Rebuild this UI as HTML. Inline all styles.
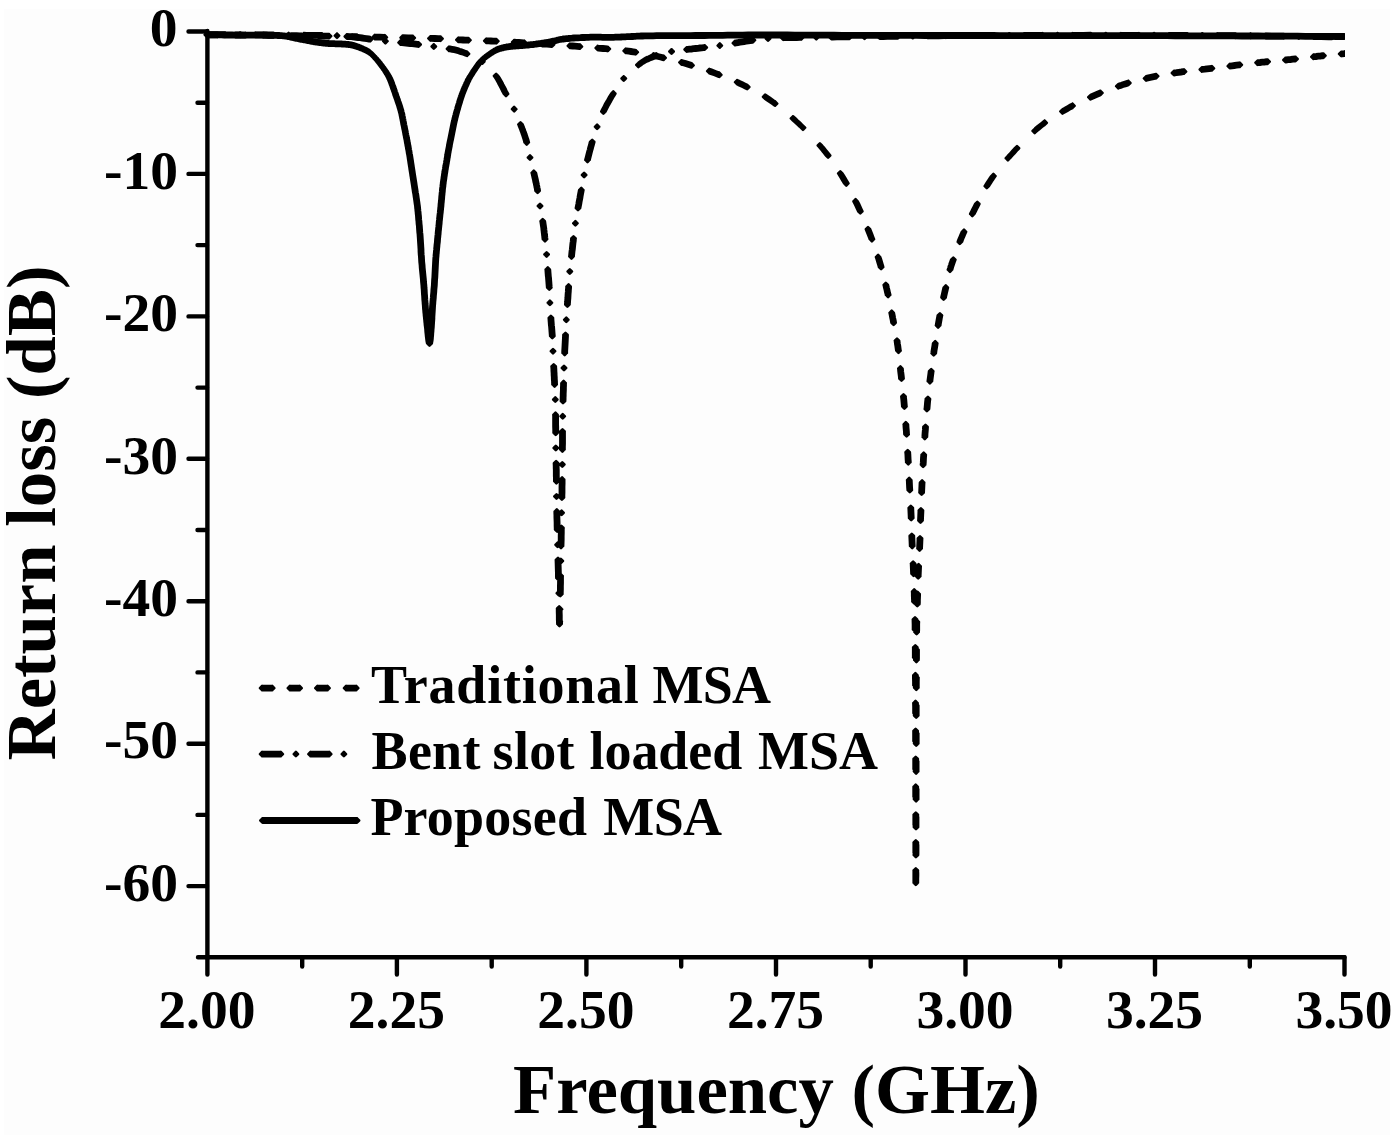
<!DOCTYPE html>
<html><head><meta charset="utf-8"><style>
html,body{margin:0;padding:0;background:#fff;width:1400px;height:1139px;overflow:hidden}
svg{display:block}
text{font-family:"Liberation Serif",serif;font-weight:bold;fill:#000}
</style></head><body>
<svg width="1400" height="1139" viewBox="0 0 1400 1139">
<rect width="1400" height="1139" fill="#fff"/>
<rect x="4" y="9" width="1386" height="1126" fill="#fdfdfd"/>
<g id="axes" stroke="#000" stroke-width="4.4" stroke-linecap="round" fill="none">
<path d="M207.4 31V958M198 957.2H1344.5"/>
<path d="M188.5 31.5H207M188.5 173.9H207M188.5 316.4H207M188.5 458.8H207M188.5 601.2H207M188.5 743.7H207M188.5 886.1H207"/>
<path d="M197.5 102.7H207M197.5 245.1H207M197.5 387.6H207M197.5 530.0H207M197.5 672.4H207M197.5 814.9H207"/>
<path d="M207.4 957.2V974.6M396.9 957.2V974.6M586.4 957.2V974.6M776.0 957.2V974.6M965.5 957.2V974.6M1155.0 957.2V974.6M1344.5 957.2V974.6"/>
<path d="M302.2 957.2V966.5M491.7 957.2V966.5M681.2 957.2V966.5M870.7 957.2V966.5M1060.2 957.2V966.5M1249.8 957.2V966.5"/>
</g>
<g font-size="55.5" text-anchor="end">
<text x="177.5" y="46">0</text>
<text x="177.9" y="189">-10</text>
<text x="177.9" y="331.3">-20</text>
<text x="177.9" y="473.6">-30</text>
<text x="177.9" y="615.9">-40</text>
<text x="177.9" y="758.2">-50</text>
<text x="177.9" y="900.5">-60</text>
</g>
<g font-size="55.5" text-anchor="middle">
<text x="206.9" y="1028.3">2.00</text>
<text x="396.4" y="1028.3">2.25</text>
<text x="585.9" y="1028.3">2.50</text>
<text x="775.5" y="1028.3">2.75</text>
<text x="965.0" y="1028.3">3.00</text>
<text x="1154.5" y="1028.3">3.25</text>
<text x="1344.0" y="1028.3">3.50</text>
</g>
<text x="776.5" y="1113" font-size="70.7" text-anchor="middle">Frequency (GHz)</text>
<text transform="translate(55,513) rotate(-90)" font-size="70.7" text-anchor="middle">Return loss (dB)</text>
<g font-size="54" lengthAdjust="spacing">
<text x="371.1" y="703" textLength="267.6" lengthAdjust="spacing">Traditional</text>
<text x="652.5" y="703" textLength="118.6" lengthAdjust="spacing">MSA</text>
<text x="371.6" y="769" textLength="108.8" lengthAdjust="spacing">Bent</text>
<text x="492.6" y="769" textLength="82.0" lengthAdjust="spacing">slot</text>
<text x="589.6" y="769" textLength="152.6" lengthAdjust="spacing">loaded</text>
<text x="757.9" y="769" textLength="120.2" lengthAdjust="spacing">MSA</text>
<text x="370.4" y="835" textLength="216.6" lengthAdjust="spacing">Proposed</text>
<text x="603.3" y="835" textLength="118.8" lengthAdjust="spacing">MSA</text>
</g>
<g id="curves" fill="#000" stroke="#000" stroke-width="2.6" stroke-linejoin="round">
<clipPath id="cp"><rect x="150" y="0" width="1195" height="960"/></clipPath>
<g clip-path="url(#cp)">
<path d="M207 32.7 209.8 32.7 212.6 32.8 215.4 32.8 218.3 32.8 221.2 32.8 224 32.9 226.8 32.9 229.6 32.9 232.3 32.9 235 33 237.5 33 240 33 242.4 33 244.7 33 247 33 249.2 33 251.3 33 253.4 33 255.5 33 257.5 33 259.4 33 261.3 33.1 263.2 33.1 265 33.1 266.8 33.1 268.5 33.2 270.2 33.2 271.8 33.2 273.4 33.2 274.9 33.3 276.4 33.3 277.8 33.4 279.2 33.4 280.5 33.5 281.8 33.6 283 33.7 284.2 33.8 285.2 34 286.2 34.1 287.2 34.3 288 34.5 288.9 34.6 289.7 34.8 290.5 35 291.4 35.2 292.2 35.4 293.1 35.6 294 35.8 295 36 295.9 36.2 296.9 36.4 297.9 36.6 298.8 36.8 299.8 37 300.8 37.2 301.8 37.3 302.8 37.5 303.8 37.7 304.7 37.9 305.7 38.1 306.7 38.3 307.6 38.5 308.5 38.6 309.5 38.8 310.4 39 311.4 39.2 312.3 39.3 313.2 39.5 314.2 39.7 315.1 39.8 316 40 317 40.1 318 40.2 318.9 40.4 319.9 40.5 320.9 40.6 321.8 40.7 322.8 40.9 323.8 41 324.7 41.1 325.7 41.2 326.7 41.2 327.6 41.3 328.6 41.4 329.6 41.5 330.5 41.5 331.5 41.6 332.5 41.6 333.4 41.6 334.4 41.6 335.4 41.7 336.3 41.7 337.3 41.7 338.2 41.7 339.1 41.8 340 41.8 340.9 41.8 341.8 41.9 342.7 42 343.6 42 344.4 42.1 345.3 42.1 346.1 42.2 347 42.3 347.8 42.3 348.5 42.4 349.3 42.5 350 42.6 350.7 42.7 351.3 42.8 351.9 42.9 352.5 43.1 353 43.2 353.5 43.3 354 43.5 354.5 43.6 355 43.8 355.5 44 356.1 44.1 356.6 44.3 357.2 44.5 357.7 44.7 358.2 44.9 358.8 45.1 359.4 45.3 359.9 45.5 360.5 45.7 361 45.9 361.6 46.2 362.1 46.4 362.7 46.6 363.2 46.9 363.8 47.2 364.3 47.4 364.9 47.7 365.4 47.9 366 48.2 366.5 48.5 367.1 48.7 367.6 49 368.2 49.4 368.7 49.7 369.3 50.1 369.8 50.5 370.3 50.9 370.9 51.4 371.5 51.9 372 52.4 372.6 53 372.6 57.2 372 56.6 371.5 56.1 370.9 55.6 370.3 55.1 369.8 54.7 369.3 54.3 368.7 53.9 368.2 53.6 367.6 53.2 367.1 52.9 366.5 52.7 366 52.4 365.4 52.1 364.9 51.9 364.3 51.6 363.8 51.4 363.2 51.1 362.7 50.8 362.1 50.6 361.6 50.4 361 50.1 360.5 49.9 359.9 49.7 359.4 49.5 358.8 49.3 358.2 49.1 357.7 48.9 357.2 48.7 356.6 48.5 356.1 48.3 355.5 48.2 355 48 354.5 47.8 354 47.7 353.5 47.5 353 47.4 352.5 47.3 351.9 47.1 351.3 47 350.7 46.9 350 46.8 349.3 46.7 348.5 46.6 347.8 46.5 347 46.5 346.1 46.4 345.3 46.3 344.4 46.3 343.6 46.2 342.7 46.2 341.8 46.1 340.9 46 340 46 339.1 46 338.2 45.9 337.3 45.9 336.3 45.9 335.4 45.9 334.4 45.8 333.4 45.8 332.5 45.8 331.5 45.8 330.5 45.7 329.6 45.7 328.6 45.6 327.6 45.5 326.7 45.4 325.7 45.4 324.7 45.3 323.8 45.2 322.8 45.1 321.8 44.9 320.9 44.8 319.9 44.7 318.9 44.6 318 44.4 317 44.3 316 44.2 315.1 44 314.2 43.9 313.2 43.7 312.3 43.5 311.4 43.4 310.4 43.2 309.5 43 308.5 42.8 307.6 42.7 306.7 42.5 305.7 42.3 304.7 42.1 303.8 41.9 302.8 41.7 301.8 41.5 300.8 41.4 299.8 41.2 298.8 41 297.9 40.8 296.9 40.6 295.9 40.4 295 40.2 294 40 293.1 39.8 292.2 39.6 291.4 39.4 290.5 39.2 289.7 39 288.9 38.8 288 38.7 287.2 38.5 286.2 38.3 285.2 38.2 284.2 38 283 37.9 281.8 37.8 280.5 37.7 279.2 37.6 277.8 37.6 276.4 37.5 274.9 37.5 273.4 37.4 271.8 37.4 270.2 37.4 268.5 37.4 266.8 37.3 265 37.3 263.2 37.3 261.3 37.3 259.4 37.2 257.5 37.2 255.5 37.2 253.4 37.2 251.3 37.2 249.2 37.2 247 37.2 244.7 37.2 242.4 37.2 240 37.2 237.5 37.2 235 37.2 232.3 37.1 229.6 37.1 226.8 37.1 224 37.1 221.2 37 218.3 37 215.4 37 212.6 37 209.8 36.9 207 36.9ZM207 32.7 209.1 34.8 207 36.9 204.9 34.8ZM372.6 53 374.7 55.1 372.6 57.2 370.5 55.1ZM374.7 55.1 375.2 55.7 375.8 56.2 376.3 56.8 376.9 57.4 377.4 58 377.9 58.5 378.4 59.1 378.9 59.6 379.4 60.2 379.8 60.7 380.3 61.3 380.7 61.8 381.2 62.4 381.6 62.9 382 63.5 382.4 64 382.9 64.6 383.3 65.1 383.7 65.7 384.1 66.3 384.5 66.8 385 67.4 385.4 68 385.8 68.5 386.2 69.1 386.6 69.7 387 70.3 387.4 70.8 387.8 71.4 388.1 72 388.5 72.6 388.9 73.2 389.2 73.7 389.5 74.3 389.9 74.8 390.2 75.3 390.5 75.8 390.8 76.4 391.1 77 391.4 77.7 391.8 78.4 392.1 79.1 392.5 80 392.9 80.9 393.3 81.9 393.7 83 394.1 84.2 394.5 85.3 395 86.5 395.4 87.8 395.8 89.1 396.3 90.3 396.7 91.6 397.2 92.9 397.6 94.2 398 95.5 398.5 96.8 399 98.2 399.5 99.5 399.9 100.9 400.4 102.3 400.9 103.7 401.4 105.1 401.8 106.4 402.2 107.8 402.6 109.2 403 110.5 403.3 111.8 403.7 113.1 404 114.4 404.2 115.7 404.5 116.9 404.7 118.2 405 119.4 405.2 120.7 405.5 122 405.7 123.2 405.9 124.5 406.2 125.8 406.5 127.1 406.7 128.4 407 129.7 407.3 131 407.5 132.3 407.8 133.7 408 135 408.3 136.3 408.5 137.6 408.8 139 409.1 140.3 409.3 141.6 409.5 142.9 409.8 144.2 410 145.6 410.3 146.9 410.5 148.2 410.7 149.5 411 150.8 411.2 152.1 411.4 153.5 411.7 154.8 411.9 156.1 412.1 157.4 412.3 158.7 412.5 160 412.7 161.3 412.9 162.7 413.1 164 413.3 165.3 413.5 166.6 413.7 167.9 413.9 169.2 414.1 170.5 414.3 171.8 414.5 173.1 414.7 174.4 414.9 175.7 415.1 176.9 415.3 178.2 415.5 179.5 415.7 180.7 415.9 182 416.1 183.3 416.3 184.6 416.5 185.9 416.7 187.2 416.9 188.5 417.1 189.8 417.3 191.2 417.5 192.5 417.8 193.9 418 195.3 418.2 196.7 418.4 198.1 418.6 199.5 418.8 200.9 419 202.3 419.2 203.7 419.4 205.1 419.6 206.5 419.7 208 419.9 209.4 420 210.9 420.2 212.3 420.3 213.8 420.5 215.3 420.6 216.7 420.7 218.2 420.8 219.7 421 221.1 421.1 222.6 421.2 224.1 421.4 225.5 421.5 226.9 421.6 228.4 421.7 229.8 421.8 231.3 421.9 232.7 422.1 234.2 422.2 235.6 422.3 237.1 422.4 238.7 422.5 240.2 422.6 241.8 422.7 243.3 422.8 244.9 422.9 246.5 423 248.1 423.1 249.7 423.1 251.4 423.2 253 423.3 254.7 423.5 256.4 423.6 258.2 423.7 260 423.8 261.8 424 263.7 424.2 265.7 424.3 267.6 424.5 269.6 424.7 271.6 424.9 273.6 425.1 275.7 425.3 277.7 425.5 279.7 425.6 281.7 425.8 283.7 426 285.7 426.1 287.7 426.3 289.7 426.4 291.8 426.5 293.8 426.7 295.9 426.8 297.9 426.9 299.9 427.1 301.8 427.2 303.7 427.4 305.6 427.5 307.4 427.6 309.1 427.8 310.8 427.9 312.4 428.1 314 428.2 315.6 428.4 317.1 428.5 318.6 428.7 320.1 428.8 321.5 429 323 429.1 324.5 429.3 326 429.5 327.6 429.7 329.4 429.8 331.3 430 333.2 430.2 335.1 430.4 337 430.6 338.7 430.8 340.3 431 341.6 431.2 342.6 431.4 343.3 431.6 343.5 427.4 343.5 427.2 343.3 427 342.6 426.8 341.6 426.6 340.3 426.4 338.7 426.2 337 426 335.1 425.8 333.2 425.6 331.3 425.5 329.4 425.3 327.6 425.1 326 424.9 324.5 424.8 323 424.6 321.5 424.5 320.1 424.3 318.6 424.2 317.1 424 315.6 423.9 314 423.7 312.4 423.6 310.8 423.4 309.1 423.3 307.4 423.2 305.6 423 303.7 422.9 301.8 422.7 299.9 422.6 297.9 422.5 295.9 422.3 293.8 422.2 291.8 422.1 289.7 421.9 287.7 421.8 285.7 421.6 283.7 421.4 281.7 421.3 279.7 421.1 277.7 420.9 275.7 420.7 273.6 420.5 271.6 420.3 269.6 420.1 267.6 420 265.7 419.8 263.7 419.6 261.8 419.5 260 419.4 258.2 419.3 256.4 419.1 254.7 419 253 418.9 251.4 418.9 249.7 418.8 248.1 418.7 246.5 418.6 244.9 418.5 243.3 418.4 241.8 418.3 240.2 418.2 238.7 418.1 237.1 418 235.6 417.9 234.2 417.7 232.7 417.6 231.3 417.5 229.8 417.4 228.4 417.3 226.9 417.2 225.5 417 224.1 416.9 222.6 416.8 221.1 416.6 219.7 416.5 218.2 416.4 216.7 416.3 215.3 416.1 213.8 416 212.3 415.8 210.9 415.7 209.4 415.5 208 415.4 206.5 415.2 205.1 415 203.7 414.8 202.3 414.6 200.9 414.4 199.5 414.2 198.1 414 196.7 413.8 195.3 413.6 193.9 413.3 192.5 413.1 191.2 412.9 189.8 412.7 188.5 412.5 187.2 412.3 185.9 412.1 184.6 411.9 183.3 411.7 182 411.5 180.7 411.3 179.5 411.1 178.2 410.9 176.9 410.7 175.7 410.5 174.4 410.3 173.1 410.1 171.8 409.9 170.5 409.7 169.2 409.5 167.9 409.3 166.6 409.1 165.3 408.9 164 408.7 162.7 408.5 161.3 408.3 160 408.1 158.7 407.9 157.4 407.7 156.1 407.5 154.8 407.2 153.5 407 152.1 406.8 150.8 406.5 149.5 406.3 148.2 406.1 146.9 405.8 145.6 405.6 144.2 405.3 142.9 405.1 141.6 404.9 140.3 404.6 139 404.3 137.6 404.1 136.3 403.8 135 403.6 133.7 403.3 132.3 403.1 131 402.8 129.7 402.5 128.4 402.3 127.1 402 125.8 401.7 124.5 401.5 123.2 401.3 122 401 120.7 400.8 119.4 400.5 118.2 400.3 116.9 400 115.7 399.8 114.4 399.5 113.1 399.1 111.8 398.8 110.5 398.4 109.2 398 107.8 397.6 106.4 397.2 105.1 396.7 103.7 396.2 102.3 395.7 100.9 395.3 99.5 394.8 98.2 394.3 96.8 393.8 95.5 393.4 94.2 393 92.9 392.5 91.6 392.1 90.3 391.6 89.1 391.2 87.8 390.8 86.5 390.3 85.3 389.9 84.2 389.5 83 389.1 81.9 388.7 80.9 388.3 80 387.9 79.1 387.6 78.4 387.2 77.7 386.9 77 386.6 76.4 386.3 75.8 386 75.3 385.7 74.8 385.3 74.3 385 73.7 384.7 73.2 384.3 72.6 383.9 72 383.6 71.4 383.2 70.8 382.8 70.3 382.4 69.7 382 69.1 381.6 68.5 381.2 68 380.8 67.4 380.3 66.8 379.9 66.3 379.5 65.7 379.1 65.1 378.7 64.6 378.2 64 377.8 63.5 377.4 62.9 377 62.4 376.5 61.8 376.1 61.3 375.6 60.7 375.2 60.2 374.7 59.6 374.2 59.1 373.7 58.5 373.2 58 372.7 57.4 372.1 56.8 371.6 56.2 371 55.7 370.5 55.1ZM372.6 53 374.7 55.1 372.6 57.2 370.5 55.1ZM429.5 341.4 431.6 343.5 429.5 345.6 427.4 343.5ZM427.4 343.5 427.6 343.3 427.7 342.6 427.9 341.6 428.1 340.3 428.3 338.7 428.4 337 428.6 335.1 428.7 333.2 428.9 331.3 429 329.4 429.2 327.6 429.3 326 429.4 324.5 429.5 323 429.6 321.5 429.7 320.1 429.8 318.6 429.8 317.1 429.9 315.6 430 314 430.1 312.4 430.2 310.8 430.3 309.1 430.4 307.4 430.5 305.6 430.7 303.7 430.8 301.8 431 299.9 431.2 297.9 431.3 295.9 431.5 293.8 431.7 291.8 431.8 289.7 432 287.7 432.2 285.7 432.3 283.7 432.4 281.7 432.5 279.7 432.7 277.7 432.8 275.7 432.9 273.6 433 271.6 433.1 269.6 433.2 267.6 433.3 265.7 433.4 263.7 433.5 261.8 433.6 260 433.7 258.2 433.9 256.4 434 254.7 434.2 253 434.3 251.4 434.5 249.7 434.6 248.1 434.8 246.5 434.9 244.9 435.1 243.3 435.3 241.8 435.4 240.2 435.5 238.7 435.7 237.1 435.8 235.6 436 234.2 436.1 232.7 436.2 231.3 436.4 229.8 436.5 228.4 436.7 226.9 436.8 225.5 437 224.1 437.1 222.6 437.2 221.1 437.4 219.7 437.5 218.2 437.7 216.8 437.8 215.3 438 213.8 438.2 212.4 438.3 210.9 438.5 209.5 438.6 208 438.8 206.6 438.9 205.1 439 203.6 439.2 202.1 439.3 200.6 439.5 199.1 439.6 197.6 439.7 196.1 439.9 194.6 440 193.1 440.2 191.7 440.3 190.3 440.4 188.9 440.6 187.5 440.8 186.2 440.9 184.9 441.1 183.6 441.2 182.3 441.4 181.1 441.6 179.8 441.8 178.6 441.9 177.5 442.1 176.3 442.3 175.1 442.4 174 442.6 172.9 442.8 171.8 442.9 170.8 443.1 169.7 443.3 168.7 443.4 167.7 443.6 166.8 443.8 165.8 443.9 164.9 444.1 163.9 444.3 162.9 444.4 162 444.6 161 444.8 160 444.9 159 445.1 158 445.3 157.1 445.4 156.1 445.6 155.1 445.7 154.1 445.9 153.1 446.1 152.1 446.2 151.2 446.4 150.2 446.6 149.2 446.8 148.2 447 147.2 447.2 146.3 447.3 145.3 447.5 144.3 447.7 143.3 447.9 142.3 448.1 141.3 448.3 140.4 448.5 139.4 448.7 138.4 448.9 137.4 449.1 136.4 449.3 135.4 449.5 134.4 449.7 133.4 449.9 132.4 450.1 131.5 450.3 130.5 450.5 129.5 450.7 128.5 450.9 127.5 451.1 126.5 451.3 125.5 451.5 124.5 451.7 123.6 451.9 122.6 452.1 121.7 452.4 120.7 452.6 119.8 452.8 118.8 453 117.8 453.3 116.9 453.5 115.8 453.8 114.8 454.1 113.7 454.4 112.6 454.7 111.4 455.1 110.1 455.5 108.8 455.8 107.5 456.2 106.2 456.6 104.9 457 103.6 457.4 102.3 457.7 101.2 458.1 100 458.4 99 458.7 98.1 459 97.2 459.3 96.4 459.5 95.6 459.8 94.9 460 94.2 460.3 93.5 460.6 92.9 460.8 92.2 461.1 91.5 461.4 90.8 461.7 90 462 89.2 462.4 88.4 462.7 87.5 463.1 86.6 463.5 85.8 463.9 84.9 464.3 84 464.6 83.2 465 82.3 465.4 81.6 465.8 80.8 466.1 80.1 466.4 79.4 466.8 78.8 467.1 78.3 467.4 77.7 467.7 77.2 468 76.7 468.3 76.2 468.6 75.8 468.9 75.3 469.2 74.8 469.5 74.3 469.8 73.8 470.1 73.3 470.5 72.7 470.8 72.2 471.2 71.7 471.5 71.1 471.9 70.6 472.2 70.1 472.6 69.6 472.9 69 473.3 68.5 473.6 68 474 67.5 474.3 67 474.7 66.5 475 66 475.4 65.5 475.7 65 476.1 64.5 476.4 64 476.8 63.5 477.1 63 477.5 62.6 477.8 62.1 478.2 61.7 478.6 61.3 478.9 60.9 483.1 60.9 482.8 61.3 482.4 61.7 482 62.1 481.7 62.6 481.3 63 481 63.5 480.6 64 480.3 64.5 479.9 65 479.6 65.5 479.2 66 478.9 66.5 478.5 67 478.2 67.5 477.8 68 477.5 68.5 477.1 69 476.8 69.6 476.4 70.1 476.1 70.6 475.7 71.1 475.4 71.7 475 72.2 474.7 72.7 474.3 73.3 474 73.8 473.7 74.3 473.4 74.8 473.1 75.3 472.8 75.8 472.5 76.2 472.2 76.7 471.9 77.2 471.6 77.7 471.3 78.3 471 78.8 470.6 79.4 470.3 80.1 470 80.8 469.6 81.6 469.2 82.3 468.8 83.2 468.5 84 468.1 84.9 467.7 85.8 467.3 86.6 466.9 87.5 466.6 88.4 466.2 89.2 465.9 90 465.6 90.8 465.3 91.5 465 92.2 464.8 92.9 464.5 93.5 464.2 94.2 464 94.9 463.7 95.6 463.5 96.4 463.2 97.2 462.9 98.1 462.6 99 462.3 100 461.9 101.2 461.6 102.3 461.2 103.6 460.8 104.9 460.4 106.2 460 107.5 459.7 108.8 459.3 110.1 458.9 111.4 458.6 112.6 458.3 113.7 458 114.8 457.7 115.8 457.5 116.9 457.2 117.8 457 118.8 456.8 119.8 456.6 120.7 456.3 121.7 456.1 122.6 455.9 123.6 455.7 124.5 455.5 125.5 455.3 126.5 455.1 127.5 454.9 128.5 454.7 129.5 454.5 130.5 454.3 131.5 454.1 132.4 453.9 133.4 453.7 134.4 453.5 135.4 453.3 136.4 453.1 137.4 452.9 138.4 452.7 139.4 452.5 140.4 452.3 141.3 452.1 142.3 451.9 143.3 451.7 144.3 451.5 145.3 451.4 146.3 451.2 147.2 451 148.2 450.8 149.2 450.6 150.2 450.4 151.2 450.3 152.1 450.1 153.1 449.9 154.1 449.8 155.1 449.6 156.1 449.5 157.1 449.3 158 449.1 159 449 160 448.8 161 448.6 162 448.5 162.9 448.3 163.9 448.1 164.9 448 165.8 447.8 166.8 447.6 167.7 447.5 168.7 447.3 169.7 447.1 170.8 447 171.8 446.8 172.9 446.6 174 446.5 175.1 446.3 176.3 446.1 177.5 446 178.6 445.8 179.8 445.6 181.1 445.4 182.3 445.3 183.6 445.1 184.9 445 186.2 444.8 187.5 444.6 188.9 444.5 190.3 444.4 191.7 444.2 193.1 444.1 194.6 443.9 196.1 443.8 197.6 443.7 199.1 443.5 200.6 443.4 202.1 443.2 203.6 443.1 205.1 443 206.6 442.8 208 442.7 209.5 442.5 210.9 442.4 212.4 442.2 213.8 442 215.3 441.9 216.8 441.7 218.2 441.6 219.7 441.4 221.1 441.3 222.6 441.2 224.1 441 225.5 440.9 226.9 440.7 228.4 440.6 229.8 440.4 231.3 440.3 232.7 440.2 234.2 440 235.6 439.9 237.1 439.7 238.7 439.6 240.2 439.5 241.8 439.3 243.3 439.1 244.9 439 246.5 438.8 248.1 438.7 249.7 438.5 251.4 438.4 253 438.2 254.7 438.1 256.4 437.9 258.2 437.8 260 437.7 261.8 437.6 263.7 437.5 265.7 437.4 267.6 437.3 269.6 437.2 271.6 437.1 273.6 437 275.7 436.9 277.7 436.7 279.7 436.6 281.7 436.5 283.7 436.4 285.7 436.2 287.7 436 289.7 435.9 291.8 435.7 293.8 435.5 295.9 435.4 297.9 435.2 299.9 435 301.8 434.9 303.7 434.7 305.6 434.6 307.4 434.5 309.1 434.4 310.8 434.3 312.4 434.2 314 434.1 315.6 434 317.1 434 318.6 433.9 320.1 433.8 321.5 433.7 323 433.6 324.5 433.5 326 433.4 327.6 433.2 329.4 433.1 331.3 432.9 333.2 432.8 335.1 432.6 337 432.5 338.7 432.3 340.3 432.1 341.6 431.9 342.6 431.8 343.3 431.6 343.5ZM429.5 341.4 431.6 343.5 429.5 345.6 427.4 343.5ZM481 58.8 483.1 60.9 481 63 478.9 60.9ZM481 58.8 481.4 58.4 481.8 58.1 482.2 57.7 482.6 57.4 482.9 57.1 483.3 56.7 483.7 56.4 484.1 56.1 484.6 55.7 485 55.4 485.4 55 485.9 54.7 486.4 54.3 486.8 54 487.3 53.6 487.8 53.3 488.3 52.9 488.8 52.6 489.3 52.2 489.8 51.9 490.3 51.5 490.8 51.2 491.3 50.9 491.8 50.5 492.3 50.2 492.8 49.9 493.3 49.6 493.8 49.2 494.3 48.9 494.9 48.6 495.4 48.3 496 48 496.5 47.8 497.1 47.5 497.7 47.3 498.3 47 499 46.8 499.6 46.6 500.3 46.4 500.9 46.2 501.6 46 502.3 45.8 503 45.7 503.6 45.5 504.3 45.3 505 45.2 505.7 45.1 506.3 44.9 506.9 44.8 507.5 44.7 508.1 44.7 508.7 44.6 509.4 44.5 510 44.4 510.7 44.3 511.5 44.3 512.3 44.2 513.2 44.1 514.2 44 515.2 43.9 516.3 43.8 517.4 43.8 518.6 43.7 519.8 43.6 521.1 43.5 522.3 43.4 523.6 43.3 524.8 43.2 526 43.1 527.2 43 528.4 42.9 529.5 42.8 530.7 42.6 531.9 42.5 533.1 42.4 534.3 42.2 535.5 42.1 536.6 41.9 537.8 41.8 538.9 41.6 540 41.5 541.1 41.3 542.2 41.1 543.2 41 544.2 40.8 545.2 40.6 546.2 40.4 547.2 40.2 548.2 40.1 549.1 39.9 550.1 39.7 551 39.5 552 39.3 553 39.1 553.9 38.9 554.8 38.7 555.7 38.5 556.5 38.3 557.3 38.1 558.2 37.9 559 37.6 560 37.4 561 37.2 562.1 37.1 563.4 36.9 564.8 36.7 566.4 36.5 568.1 36.4 569.9 36.2 571.8 36.1 573.8 35.9 575.9 35.8 578 35.7 580.2 35.6 582.3 35.4 584.4 35.4 586.5 35.3 588.5 35.2 590.5 35.1 592.5 35.1 594.5 35.1 596.6 35.1 598.6 35.1 600.6 35.1 602.6 35.2 604.6 35.2 606.5 35.2 608.4 35.2 610.2 35.2 612 35.2 613.7 35.2 615.3 35.1 616.8 35.1 618.3 35 619.8 35 621.2 34.9 622.6 34.8 624.1 34.8 625.5 34.7 626.9 34.6 628.4 34.6 630 34.5 631.5 34.4 632.9 34.4 634.2 34.3 635.4 34.2 636.7 34.1 638 34.1 639.4 34 641 33.9 642.8 33.9 644.9 33.8 647.3 33.7 650 33.7 653.1 33.7 656.5 33.6 660.2 33.6 664.1 33.6 668.2 33.5 672.5 33.5 676.9 33.5 681.5 33.5 686.1 33.5 690.7 33.5 695.4 33.4 700 33.4 704.6 33.4 709.1 33.3 713.6 33.3 718.1 33.2 722.8 33.2 727.5 33.1 732.4 33.1 737.4 33 742.7 33 748.1 32.9 753.9 32.9 760 32.9 766.4 32.9 773.1 32.9 780.2 32.9 787.4 32.9 794.9 33 802.5 33 810.3 33 818.1 33.1 826.1 33.1 834.1 33.1 842.1 33.2 850 33.2 858 33.2 866.1 33.2 874.3 33.3 882.6 33.3 891 33.3 899.4 33.3 907.8 33.3 916.3 33.3 924.8 33.4 933.2 33.4 941.6 33.4 950 33.4 958.3 33.4 966.7 33.4 975 33.4 983.3 33.4 991.7 33.4 1000 33.5 1008.3 33.5 1016.7 33.5 1025 33.5 1033.3 33.5 1041.7 33.5 1050 33.5 1058.3 33.5 1066.7 33.5 1075 33.5 1083.3 33.5 1091.7 33.5 1100 33.5 1108.3 33.5 1116.7 33.6 1125 33.6 1133.3 33.6 1141.7 33.6 1150 33.6 1158.4 33.6 1166.7 33.6 1175.1 33.7 1183.5 33.7 1191.9 33.7 1200.3 33.7 1208.7 33.8 1217.1 33.8 1225.4 33.8 1233.7 33.8 1241.9 33.9 1250 33.9 1258.1 33.9 1266.1 34 1274 34 1281.9 34.1 1289.8 34.1 1297.6 34.1 1305.4 34.2 1313.2 34.2 1321 34.3 1328.8 34.3 1336.6 34.4 1344.5 34.4 1344.5 38.6 1336.6 38.6 1328.8 38.5 1321 38.5 1313.2 38.4 1305.4 38.4 1297.6 38.3 1289.8 38.3 1281.9 38.3 1274 38.2 1266.1 38.2 1258.1 38.1 1250 38.1 1241.9 38.1 1233.7 38 1225.4 38 1217.1 38 1208.7 38 1200.3 37.9 1191.9 37.9 1183.5 37.9 1175.1 37.9 1166.7 37.8 1158.4 37.8 1150 37.8 1141.7 37.8 1133.3 37.8 1125 37.8 1116.7 37.8 1108.3 37.7 1100 37.7 1091.7 37.7 1083.3 37.7 1075 37.7 1066.7 37.7 1058.3 37.7 1050 37.7 1041.7 37.7 1033.3 37.7 1025 37.7 1016.7 37.7 1008.3 37.7 1000 37.7 991.7 37.6 983.3 37.6 975 37.6 966.7 37.6 958.3 37.6 950 37.6 941.6 37.6 933.2 37.6 924.8 37.6 916.3 37.5 907.8 37.5 899.4 37.5 891 37.5 882.6 37.5 874.3 37.5 866.1 37.4 858 37.4 850 37.4 842.1 37.4 834.1 37.3 826.1 37.3 818.1 37.3 810.3 37.2 802.5 37.2 794.9 37.2 787.4 37.1 780.2 37.1 773.1 37.1 766.4 37.1 760 37.1 753.9 37.1 748.1 37.1 742.7 37.2 737.4 37.2 732.4 37.3 727.5 37.3 722.8 37.4 718.1 37.4 713.6 37.5 709.1 37.5 704.6 37.6 700 37.6 695.4 37.6 690.7 37.7 686.1 37.7 681.5 37.7 676.9 37.7 672.5 37.7 668.2 37.7 664.1 37.8 660.2 37.8 656.5 37.8 653.1 37.9 650 37.9 647.3 37.9 644.9 38 642.8 38.1 641 38.1 639.4 38.2 638 38.3 636.7 38.3 635.4 38.4 634.2 38.5 632.9 38.6 631.5 38.6 630 38.7 628.4 38.8 626.9 38.8 625.5 38.9 624.1 39 622.6 39 621.2 39.1 619.8 39.2 618.3 39.2 616.8 39.3 615.3 39.3 613.7 39.4 612 39.4 610.2 39.4 608.4 39.4 606.5 39.4 604.6 39.4 602.6 39.4 600.6 39.3 598.6 39.3 596.6 39.3 594.5 39.3 592.5 39.3 590.5 39.3 588.5 39.4 586.5 39.5 584.4 39.6 582.3 39.6 580.2 39.8 578 39.9 575.9 40 573.8 40.1 571.8 40.3 569.9 40.4 568.1 40.6 566.4 40.7 564.8 40.9 563.4 41.1 562.1 41.3 561 41.4 560 41.6 559 41.8 558.2 42.1 557.3 42.3 556.5 42.5 555.7 42.7 554.8 42.9 553.9 43.1 553 43.3 552 43.5 551 43.7 550.1 43.9 549.1 44.1 548.2 44.3 547.2 44.4 546.2 44.6 545.2 44.8 544.2 45 543.2 45.2 542.2 45.3 541.1 45.5 540 45.7 538.9 45.8 537.8 46 536.6 46.1 535.5 46.3 534.3 46.4 533.1 46.6 531.9 46.7 530.7 46.8 529.5 47 528.4 47.1 527.2 47.2 526 47.3 524.8 47.4 523.6 47.5 522.3 47.6 521.1 47.7 519.8 47.8 518.6 47.9 517.4 48 516.3 48 515.2 48.1 514.2 48.2 513.2 48.3 512.3 48.4 511.5 48.5 510.7 48.5 510 48.6 509.4 48.7 508.7 48.8 508.1 48.9 507.5 48.9 506.9 49 506.3 49.1 505.7 49.3 505 49.4 504.3 49.5 503.6 49.7 503 49.9 502.3 50 501.6 50.2 500.9 50.4 500.3 50.6 499.6 50.8 499 51 498.3 51.2 497.7 51.5 497.1 51.7 496.5 52 496 52.2 495.4 52.5 494.9 52.8 494.3 53.1 493.8 53.4 493.3 53.8 492.8 54.1 492.3 54.4 491.8 54.7 491.3 55.1 490.8 55.4 490.3 55.7 489.8 56.1 489.3 56.4 488.8 56.8 488.3 57.1 487.8 57.5 487.3 57.8 486.8 58.2 486.4 58.5 485.9 58.9 485.4 59.2 485 59.6 484.6 59.9 484.1 60.3 483.7 60.6 483.3 60.9 482.9 61.3 482.6 61.6 482.2 61.9 481.8 62.3 481.4 62.6 481 63ZM481 58.8 483.1 60.9 481 63 478.9 60.9ZM1344.5 34.4 1346.6 36.5 1344.5 38.6 1342.4 36.5Z"/>
<path d="M207 32.5 211.5 32.5 216 32.5 220.6 32.5 225 32.6 225 36.8 220.6 36.7 216 36.7 211.5 36.7 207 36.7ZM207 32.5 209.1 34.6 207 36.7 204.9 34.6ZM225 32.6 227.1 34.7 225 36.8 222.9 34.7ZM240.2 32.6 240.2 32.6 240.2 36.8 240.2 36.8ZM240.2 32.6 242.3 34.7 240.2 36.8 238.1 34.7ZM240.2 32.6 242.3 34.7 240.2 36.8 238.1 34.7ZM255.4 32.7 256 32.7 260 32.7 263.8 32.7 267.5 32.8 271 32.8 273.4 32.8 273.4 37 271 37 267.5 37 263.8 36.9 260 36.9 256 36.9 255.4 36.9ZM255.4 32.7 257.5 34.8 255.4 36.9 253.3 34.8ZM273.4 32.8 275.5 34.9 273.4 37 271.3 34.9ZM288.6 33 288.6 33 288.6 37.2 288.6 37.2ZM288.6 33 290.7 35.1 288.6 37.2 286.5 35.1ZM288.6 33 290.7 35.1 288.6 37.2 286.5 35.1ZM303.8 33.1 306.5 33.2 309.8 33.2 313.1 33.2 316.4 33.2 319.7 33.3 321.8 33.3 321.8 37.5 319.7 37.5 316.4 37.4 313.1 37.4 309.8 37.4 306.5 37.4 303.8 37.3ZM303.8 33.1 305.9 35.2 303.8 37.3 301.7 35.2ZM321.8 33.3 323.9 35.4 321.8 37.5 319.7 35.4ZM337 33.6 337 33.6 337 37.8 337 37.8ZM337 33.6 339.1 35.7 337 37.8 334.9 35.7ZM337 33.6 339.1 35.7 337 37.8 334.9 35.7ZM352.2 34.7 352.7 34.8 354.3 35 356.1 35.2 358 35.4 360 35.6 362.2 35.9 364.4 36.2 366.6 36.5 368.9 36.9 370.2 37.1 370.2 41.3 368.9 41.1 366.6 40.7 364.4 40.4 362.2 40.1 360 39.8 358 39.6 356.1 39.4 354.3 39.2 352.7 39 352.2 38.9ZM352.2 34.7 354.3 36.8 352.2 38.9 350.1 36.8ZM370.2 37.1 372.3 39.2 370.2 41.3 368.1 39.2ZM385.4 39.1 385.4 39.1 385.4 43.3 385.4 43.3ZM385.4 39.1 387.5 41.2 385.4 43.3 383.3 41.2ZM385.4 39.1 387.5 41.2 385.4 43.3 383.3 41.2ZM400.6 40.5 401.9 40.6 403.9 40.8 406 41 408 41.2 410 41.4 412 41.6 413.9 41.8 415.8 42 417.7 42.3 418.6 42.4 418.6 46.6 417.7 46.5 415.8 46.2 413.9 46 412 45.8 410 45.6 408 45.4 406 45.2 403.9 45 401.9 44.8 400.6 44.7ZM400.6 40.5 402.7 42.6 400.6 44.7 398.5 42.6ZM418.6 42.4 420.7 44.5 418.6 46.6 416.5 44.5ZM433.8 44.4 433.8 44.4 433.8 48.6 433.8 48.6ZM433.8 44.4 435.9 46.5 433.8 48.6 431.7 46.5ZM433.8 44.4 435.9 46.5 433.8 48.6 431.7 46.5ZM449 46.7 450 46.8 452.1 47.2 454.1 47.6 456.1 48.1 458 48.6 459.9 49.2 461.7 49.7 463.6 50.4 465.4 51.1 467 51.7 467 55.9 465.4 55.3 463.6 54.6 461.7 53.9 459.9 53.4 458 52.8 456.1 52.3 454.1 51.8 452.1 51.4 450 51 449 50.9ZM449 46.7 451.1 48.8 449 50.9 446.9 48.8ZM467 51.7 469.1 53.8 467 55.9 464.9 53.8ZM482.2 59.5 482.3 59.5 482.3 63.7 482.2 63.7ZM482.2 59.5 484.3 61.6 482.2 63.7 480.1 61.6ZM482.3 59.5 484.4 61.6 482.3 63.7 480.2 61.6ZM498.2 75.9 498.9 76.9 499.6 78 500.3 79.1 501 80.3 501.7 81.6 502.4 82.9 503.1 84.3 503.8 85.6 504.5 87 505.3 88.4 506 89.9 506.7 91.3 507.4 92.6 508.1 93.9 503.9 93.9 503.2 92.6 502.5 91.3 501.8 89.9 501.1 88.4 500.3 87 499.6 85.6 498.9 84.3 498.2 82.9 497.5 81.6 496.8 80.3 496.1 79.1 495.4 78 494.7 76.9 494 75.9ZM496.1 73.8 498.2 75.9 496.1 78 494 75.9ZM506 91.8 508.1 93.9 506 96 503.9 93.9ZM516.2 109.1 516.3 109.2 512.1 109.2 512 109.1ZM514.1 107 516.2 109.1 514.1 111.2 512 109.1ZM514.2 107.1 516.3 109.2 514.2 111.3 512.1 109.2ZM522.6 124.4 523.1 125.7 523.6 127 524.1 128.3 524.6 129.5 525 130.7 525.5 131.9 525.9 133.1 526.3 134.3 526.7 135.4 527.1 136.6 527.5 137.8 527.9 139 528.2 140.2 528.6 141.5 528.8 142.4 524.6 142.4 524.4 141.5 524 140.2 523.7 139 523.3 137.8 522.9 136.6 522.5 135.4 522.1 134.3 521.7 133.1 521.3 131.9 520.8 130.7 520.4 129.5 519.9 128.3 519.4 127 518.9 125.7 518.4 124.4ZM520.5 122.3 522.6 124.4 520.5 126.5 518.4 124.4ZM526.7 140.3 528.8 142.4 526.7 144.5 524.6 142.4ZM532.1 157.6 532.1 157.6 527.9 157.6 527.9 157.6ZM530 155.5 532.1 157.6 530 159.7 527.9 157.6ZM530 155.5 532.1 157.6 530 159.7 527.9 157.6ZM535.9 172.8 536.1 173.6 536.4 175 536.7 176.3 537 177.6 537.3 178.9 537.6 180.1 537.8 181.4 538.1 182.6 538.4 183.8 538.6 185 538.9 186.2 539.1 187.5 539.4 188.7 539.6 190 539.7 190.8 535.5 190.8 535.4 190 535.2 188.7 534.9 187.5 534.7 186.2 534.4 185 534.2 183.8 533.9 182.6 533.6 181.4 533.4 180.1 533.1 178.9 532.8 177.6 532.5 176.3 532.2 175 531.9 173.6 531.7 172.8ZM533.8 170.7 535.9 172.8 533.8 174.9 531.7 172.8ZM537.6 188.7 539.7 190.8 537.6 192.9 535.5 190.8ZM542.1 206 542.1 206 537.9 206 537.9 206ZM540 203.9 542.1 206 540 208.1 537.9 206ZM540 203.9 542.1 206 540 208.1 537.9 206ZM544.8 221.2 544.9 221.6 545.1 223 545.3 224.4 545.5 225.7 545.7 227.1 545.9 228.4 546 229.7 546.2 231.1 546.3 232.4 546.5 233.7 546.6 235 546.8 236.3 546.9 237.7 547.1 239 547.1 239.2 542.9 239.2 542.9 239 542.7 237.7 542.6 236.3 542.4 235 542.3 233.7 542.1 232.4 542 231.1 541.8 229.7 541.7 228.4 541.5 227.1 541.3 225.7 541.1 224.4 540.9 223 540.7 221.6 540.6 221.2ZM542.7 219.1 544.8 221.2 542.7 223.3 540.6 221.2ZM545 237.1 547.1 239.2 545 241.3 542.9 239.2ZM548.7 254.4 548.7 254.4 544.5 254.4 544.5 254.4ZM546.6 252.3 548.7 254.4 546.6 256.5 544.5 254.4ZM546.6 252.3 548.7 254.4 546.6 256.5 544.5 254.4ZM549.9 269.6 550 270.6 550.1 272 550.2 273.4 550.3 274.7 550.4 276.1 550.6 277.4 550.7 278.8 550.8 280.1 550.9 281.4 551 282.7 551.1 284.1 551.2 285.4 551.3 286.7 551.4 287.6 547.2 287.6 547.1 286.7 547 285.4 546.9 284.1 546.8 282.7 546.7 281.4 546.6 280.1 546.5 278.8 546.4 277.4 546.2 276.1 546.1 274.7 546 273.4 545.9 272 545.8 270.6 545.7 269.6ZM547.8 267.5 549.9 269.6 547.8 271.7 545.7 269.6ZM549.3 285.5 551.4 287.6 549.3 289.7 547.2 287.6ZM552 302.8 552 302.8 547.8 302.8 547.8 302.8ZM549.9 300.7 552 302.8 549.9 304.9 547.8 302.8ZM549.9 300.7 552 302.8 549.9 304.9 547.8 302.8ZM553 318 553 318.6 553.1 320 553.2 321.4 553.3 322.7 553.4 324.1 553.5 325.4 553.7 326.7 553.8 328.1 553.9 329.4 554 330.7 554.1 332.1 554.2 333.4 554.3 334.7 554.4 336 550.2 336 550.1 334.7 550 333.4 549.9 332.1 549.8 330.7 549.7 329.4 549.6 328.1 549.5 326.7 549.3 325.4 549.2 324.1 549.1 322.7 549 321.4 548.9 320 548.8 318.6 548.8 318ZM550.9 315.9 553 318 550.9 320.1 548.8 318ZM552.3 333.9 554.4 336 552.3 338.1 550.2 336ZM555.1 351.2 555.1 351.2 555.1 351.2 550.9 351.2 550.9 351.2 550.9 351.2ZM553 349.1 555.1 351.2 553 353.3 550.9 351.2ZM553 349.1 555.1 351.2 553 353.3 550.9 351.2ZM555.8 366.4 555.8 366.6 555.9 368 556 369.4 556 370.7 556.1 372.1 556.2 373.4 556.2 374.8 556.3 376.1 556.4 377.4 556.4 378.8 556.5 380.1 556.6 381.4 556.6 382.7 556.7 384 556.7 384.4 552.5 384.4 552.5 384 552.4 382.7 552.4 381.4 552.3 380.1 552.2 378.8 552.2 377.4 552.1 376.1 552 374.8 552 373.4 551.9 372.1 551.8 370.7 551.8 369.4 551.7 368 551.6 366.6 551.6 366.4ZM553.7 364.3 555.8 366.4 553.7 368.5 551.6 366.4ZM554.6 382.3 556.7 384.4 554.6 386.5 552.5 384.4ZM557.4 399.6 557.4 399.6 553.2 399.6 553.2 399.6ZM555.3 397.5 557.4 399.6 555.3 401.7 553.2 399.6ZM555.3 397.5 557.4 399.6 555.3 401.7 553.2 399.6ZM557.6 414.8 557.7 416 557.7 418 557.7 420 557.7 422.1 557.7 424.4 557.8 426.7 557.8 429.1 557.8 431.5 557.8 432.8 553.6 432.8 553.6 431.5 553.6 429.1 553.5 426.7 553.5 424.4 553.5 422.1 553.5 420 553.5 418 553.5 416 553.4 414.8ZM555.5 412.7 557.6 414.8 555.5 416.9 553.4 414.8ZM555.7 430.7 557.8 432.8 555.7 434.9 553.6 432.8ZM557.9 448 557.9 448 553.7 448 553.7 448ZM555.8 445.9 557.9 448 555.8 450.1 553.7 448ZM555.8 445.9 557.9 448 555.8 450.1 553.7 448ZM558.2 463.2 558.2 464.3 558.3 466.2 558.3 468.1 558.4 470 558.4 472 558.4 474 558.4 476 558.5 478 558.5 480 558.5 481.2 554.3 481.2 554.3 480 554.3 478 554.2 476 554.2 474 554.2 472 554.2 470 554.1 468.1 554.1 466.2 554 464.3 554 463.2ZM556.1 461.1 558.2 463.2 556.1 465.3 554 463.2ZM556.4 479.1 558.5 481.2 556.4 483.3 554.3 481.2ZM558.6 496.4 558.6 496.4 554.4 496.4 554.4 496.4ZM556.5 494.3 558.6 496.4 556.5 498.5 554.4 496.4ZM556.5 494.3 558.6 496.4 556.5 498.5 554.4 496.4ZM558.9 511.6 558.9 512.9 559 515.1 559 517.4 559.1 520 559.2 522.8 559.2 525.8 559.3 528.9 559.3 529.6 555.1 529.6 555.1 528.9 555 525.8 555 522.8 554.9 520 554.8 517.4 554.8 515.1 554.7 512.9 554.7 511.6ZM556.8 509.5 558.9 511.6 556.8 513.7 554.7 511.6ZM557.2 527.5 559.3 529.6 557.2 531.7 555.1 529.6ZM559.7 544.8 559.7 544.8 555.5 544.8 555.5 544.8ZM557.6 542.7 559.7 544.8 557.6 546.9 555.5 544.8ZM557.6 542.7 559.7 544.8 557.6 546.9 555.5 544.8ZM560.1 560 560.2 563.3 560.3 566.6 560.4 569.9 560.5 573.3 560.5 576.6 560.6 578 556.4 578 556.3 576.6 556.3 573.3 556.2 569.9 556.1 566.6 556 563.3 555.9 560ZM558 557.9 560.1 560 558 562.1 555.9 560ZM558.5 575.9 560.6 578 558.5 580.1 556.4 578ZM561 593.2 561 593.3 556.8 593.3 556.8 593.2ZM558.9 591.1 561 593.2 558.9 595.3 556.8 593.2ZM558.9 591.2 561 593.3 558.9 595.4 556.8 593.3ZM561.3 608.5 561.3 609.5 561.3 612.3 561.4 615 561.4 617.5 561.4 619.6 561.5 621.4 561.5 622.8 561.6 623.7 561.6 624 557.4 624 557.4 623.7 557.3 622.8 557.3 621.4 557.2 619.6 557.2 617.5 557.2 615 557.1 612.3 557.1 609.5 557.1 608.5ZM559.2 606.4 561.3 608.5 559.2 610.6 557.1 608.5ZM559.5 621.9 561.6 624 559.5 626.1 557.4 624ZM557.4 624 557.5 623.7 557.5 622.8 557.6 621.5 561.8 621.5 561.7 622.8 561.7 623.7 561.6 624ZM559.5 621.9 561.6 624 559.5 626.1 557.4 624ZM559.7 619.4 561.8 621.5 559.7 623.6 557.6 621.5ZM557.9 609.3 557.9 609.3 562.1 609.3 562.1 609.3ZM560 607.2 562.1 609.3 560 611.4 557.9 609.3ZM560 607.2 562.1 609.3 560 611.4 557.9 609.3ZM558.2 594.1 558.2 592.4 558.3 589.4 558.3 586.3 558.4 583.1 558.4 579.9 558.4 576.6 558.5 576.1 562.7 576.1 562.6 576.6 562.6 579.9 562.6 583.1 562.5 586.3 562.5 589.4 562.4 592.4 562.4 594.1ZM560.3 592 562.4 594.1 560.3 596.2 558.2 594.1ZM560.6 574 562.7 576.1 560.6 578.2 558.5 576.1ZM558.7 561 558.7 561 562.9 561 562.9 561ZM560.8 558.9 562.9 561 560.8 563.1 558.7 561ZM560.8 558.9 562.9 561 560.8 563.1 558.7 561ZM558.9 545.9 559 543 559.1 539.5 559.1 536.1 559.2 532.7 559.2 529.3 559.3 527.9 563.5 527.9 563.4 529.3 563.4 532.7 563.3 536.1 563.3 539.5 563.2 543 563.1 545.9ZM561 543.8 563.1 545.9 561 548 558.9 545.9ZM561.4 525.8 563.5 527.9 561.4 530 559.3 527.9ZM559.5 512.8 559.5 512.8 563.7 512.8 563.7 512.8ZM561.6 510.7 563.7 512.8 561.6 514.9 559.5 512.8ZM561.6 510.7 563.7 512.8 561.6 514.9 559.5 512.8ZM559.8 497.6 559.8 495.5 559.9 492.8 559.9 490 559.9 487 560 483.9 560 480.6 560 479.6 564.2 479.6 564.2 480.6 564.2 483.9 564.1 487 564.1 490 564.1 492.8 564 495.5 564 497.6ZM561.9 495.5 564 497.6 561.9 499.7 559.8 497.6ZM562.1 477.5 564.2 479.6 562.1 481.7 560 479.6ZM560.2 464.5 560.2 464.5 564.4 464.5 564.4 464.5ZM562.3 462.4 564.4 464.5 562.3 466.6 560.2 464.5ZM562.3 462.4 564.4 464.5 562.3 466.6 560.2 464.5ZM560.3 449.4 560.3 446.9 560.4 443.7 560.4 440.6 560.4 437.5 560.4 434.5 560.4 431.4 560.4 431.4 564.6 431.4 564.6 431.4 564.6 434.5 564.6 437.5 564.6 440.6 564.6 443.7 564.5 446.9 564.5 449.4ZM562.4 447.3 564.5 449.4 562.4 451.5 560.3 449.4ZM562.5 429.3 564.6 431.4 562.5 433.5 560.4 431.4ZM560.6 416.3 560.6 416.3 564.8 416.3 564.8 416.3ZM562.7 414.2 564.8 416.3 562.7 418.4 560.6 416.3ZM562.7 414.2 564.8 416.3 562.7 418.4 560.6 416.3ZM560.9 401.1 561 399.4 561 397.7 561.1 395.9 561.1 394 561.2 392 561.3 389.9 561.3 387.8 561.4 385.6 561.4 383.4 561.5 383.1 565.7 383.1 565.6 383.4 565.6 385.6 565.5 387.8 565.5 389.9 565.4 392 565.3 394 565.3 395.9 565.2 397.7 565.2 399.4 565.1 401.1ZM563 399 565.1 401.1 563 403.2 560.9 401.1ZM563.6 381 565.7 383.1 563.6 385.2 561.5 383.1ZM561.9 368 561.9 368 566.1 368 566.1 368ZM564 365.9 566.1 368 564 370.1 561.9 368ZM564 365.9 566.1 368 564 370.1 561.9 368ZM562.6 352.9 562.6 351.3 562.7 349.5 562.8 347.7 562.9 345.9 563 344 563.1 342.1 563.2 340.1 563.3 338.1 563.4 336.1 563.4 334.9 567.6 334.9 567.6 336.1 567.5 338.1 567.4 340.1 567.3 342.1 567.2 344 567.1 345.9 567 347.7 566.9 349.5 566.8 351.3 566.8 352.9ZM564.7 350.8 566.8 352.9 564.7 355 562.6 352.9ZM565.5 332.8 567.6 334.9 565.5 337 563.4 334.9ZM564.2 319.8 564.2 319.8 568.4 319.8 568.4 319.8ZM566.3 317.7 568.4 319.8 566.3 321.9 564.2 319.8ZM566.3 317.7 568.4 319.8 566.3 321.9 564.2 319.8ZM565.3 304.6 565.3 304 565.5 302 565.6 300 565.8 298 565.9 296 566 294 566.2 291.9 566.3 289.9 566.5 287.9 566.5 286.6 570.7 286.6 570.7 287.9 570.5 289.9 570.4 291.9 570.2 294 570.1 296 570 298 569.8 300 569.7 302 569.5 304 569.5 304.6ZM567.4 302.5 569.5 304.6 567.4 306.7 565.3 304.6ZM568.6 284.5 570.7 286.6 568.6 288.7 566.5 286.6ZM567.7 271.5 567.7 271.5 571.9 271.5 571.9 271.5ZM569.8 269.4 571.9 271.5 569.8 273.6 567.7 271.5ZM569.8 269.4 571.9 271.5 569.8 273.6 567.7 271.5ZM569.4 256.4 569.5 255.5 569.7 253.5 569.9 251.5 570.2 249.5 570.4 247.5 570.6 245.5 570.8 243.5 571.1 241.5 571.3 239.5 571.4 238.4 575.6 238.4 575.5 239.5 575.3 241.5 575 243.5 574.8 245.5 574.6 247.5 574.4 249.5 574.1 251.5 573.9 253.5 573.7 255.5 573.6 256.4ZM571.5 254.3 573.6 256.4 571.5 258.5 569.4 256.4ZM573.5 236.3 575.6 238.4 573.5 240.5 571.4 238.4ZM573.3 223.3 573.3 223.3 577.5 223.3 577.5 223.3ZM575.4 221.2 577.5 223.3 575.4 225.4 573.3 223.3ZM575.4 221.2 577.5 223.3 575.4 225.4 573.3 223.3ZM575.9 208.1 575.9 208 576.3 206 576.7 204 577 202 577.4 200 577.8 198 578.1 195.9 578.5 193.8 578.9 191.7 579.2 190.1 583.4 190.1 583.1 191.7 582.7 193.8 582.3 195.9 582 198 581.6 200 581.2 202 580.9 204 580.5 206 580.1 208 580.1 208.1ZM578 206 580.1 208.1 578 210.2 575.9 208.1ZM581.3 188 583.4 190.1 581.3 192.2 579.2 190.1ZM582 175 582 175 586.2 175 586.2 175ZM584.1 172.9 586.2 175 584.1 177.1 582 175ZM584.1 172.9 586.2 175 584.1 177.1 582 175ZM585.4 159.9 585.5 159.4 586 157.5 586.5 155.5 587 153.5 587.5 151.5 588.1 149.5 588.6 147.4 589.2 145.3 589.8 143.2 590.1 141.9 594.3 141.9 594 143.2 593.4 145.3 592.8 147.4 592.3 149.5 591.7 151.5 591.2 153.5 590.7 155.5 590.2 157.5 589.7 159.4 589.6 159.9ZM587.5 157.8 589.6 159.9 587.5 162 585.4 159.9ZM592.2 139.8 594.3 141.9 592.2 144 590.1 141.9ZM595 126.8 595 126.8 599.2 126.8 599.2 126.8ZM597.1 124.7 599.2 126.8 597.1 128.9 595 126.8ZM597.1 124.7 599.2 126.8 597.1 128.9 595 126.8ZM601.3 111.6 601.6 110.8 602.6 108.9 603.6 107 604.6 105 605.7 103 606.9 101 608.1 98.8 609.3 96.7 610.7 94.5 611.2 93.6 615.4 93.6 614.9 94.5 613.5 96.7 612.3 98.8 611.1 101 609.9 103 608.8 105 607.8 107 606.8 108.9 605.8 110.8 605.5 111.6ZM603.4 109.5 605.5 111.6 603.4 113.7 601.3 111.6ZM613.3 91.5 615.4 93.6 613.3 95.7 611.2 93.6ZM621.6 78.5 621.7 78.5 625.9 78.5 625.8 78.5ZM623.7 76.4 625.8 78.5 623.7 80.6 621.6 78.5ZM623.8 76.4 625.9 78.5 623.8 80.6 621.7 78.5ZM638.4 62.8 639.7 61.8 641 60.9 642.2 60 643.3 59.3 644.4 58.6 645.5 58 646.5 57.5 647.5 57 648.5 56.6 649.5 56.1 650.5 55.7 651.6 55.3 652.8 54.9 654 54.4 655.3 53.9 656.4 53.5 656.4 57.7 655.3 58.1 654 58.6 652.8 59.1 651.6 59.5 650.5 59.9 649.5 60.3 648.5 60.8 647.5 61.2 646.5 61.7 645.5 62.2 644.4 62.8 643.3 63.5 642.2 64.2 641 65.1 639.7 66 638.4 67ZM638.4 62.8 640.5 64.9 638.4 67 636.3 64.9ZM656.4 53.5 658.5 55.6 656.4 57.7 654.3 55.6ZM671.5 49.4 671.6 49.4 671.6 53.6 671.5 53.6ZM671.5 49.4 673.6 51.5 671.5 53.6 669.4 51.5ZM671.6 49.4 673.7 51.5 671.6 53.6 669.5 51.5ZM686.7 47.4 687.3 47.3 689.5 47.1 691.6 46.9 693.7 46.6 695.7 46.4 697.7 46.2 699.8 45.9 701.8 45.7 703.8 45.5 704.7 45.4 704.7 49.6 703.8 49.7 701.8 49.9 699.8 50.1 697.7 50.4 695.7 50.6 693.7 50.8 691.6 51.1 689.5 51.3 687.3 51.5 686.7 51.6ZM686.7 47.4 688.8 49.5 686.7 51.6 684.6 49.5ZM704.7 45.4 706.8 47.5 704.7 49.6 702.6 47.5ZM719.8 43.5 719.8 43.5 719.8 47.7 719.8 47.7ZM719.8 43.5 721.9 45.6 719.8 47.7 717.7 45.6ZM719.8 43.5 721.9 45.6 719.8 47.7 717.7 45.6ZM734.9 41 736.1 40.7 738.1 40.4 740.2 40 742.2 39.7 744.3 39.4 746.4 39.1 748.5 38.8 750.5 38.5 752.6 38.2 752.9 38.1 752.9 42.3 752.6 42.4 750.5 42.7 748.5 43 746.4 43.3 744.3 43.6 742.2 43.9 740.2 44.2 738.1 44.6 736.1 44.9 734.9 45.2ZM734.9 41 737 43.1 734.9 45.2 732.8 43.1ZM752.9 38.1 755 40.2 752.9 42.3 750.8 40.2ZM768 36.4 768.1 36.4 768.1 40.6 768 40.6ZM768 36.4 770.1 38.5 768 40.6 765.9 38.5ZM768.1 36.4 770.2 38.5 768.1 40.6 766 38.5ZM783.2 35.6 783.5 35.6 785.9 35.5 788.4 35.5 791 35.4 793.8 35.4 796.8 35.4 800 35.3 801.2 35.3 801.2 39.5 800 39.5 796.8 39.6 793.8 39.6 791 39.6 788.4 39.7 785.9 39.7 783.5 39.8 783.2 39.8ZM783.2 35.6 785.3 37.7 783.2 39.8 781.1 37.7ZM801.2 35.3 803.3 37.4 801.2 39.5 799.1 37.4ZM816.3 35.1 816.3 35.1 816.3 39.3 816.3 39.3ZM816.3 35.1 818.4 37.2 816.3 39.3 814.2 37.2ZM816.3 35.1 818.4 37.2 816.3 39.3 814.2 37.2ZM831.4 34.9 832.6 34.9 837 34.8 841.4 34.8 845.8 34.7 849.4 34.7 849.4 38.9 845.8 38.9 841.4 39 837 39 832.6 39.1 831.4 39.1ZM831.4 34.9 833.5 37 831.4 39.1 829.3 37ZM849.4 34.7 851.5 36.8 849.4 38.9 847.3 36.8ZM864.5 34.6 864.6 34.6 864.6 38.8 864.5 38.8ZM864.5 34.6 866.6 36.7 864.5 38.8 862.4 36.7ZM864.6 34.6 866.7 36.7 864.6 38.8 862.5 36.7ZM879.7 34.4 883.3 34.4 887.5 34.3 891.7 34.3 895.8 34.2 897.7 34.2 897.7 38.4 895.8 38.4 891.7 38.5 887.5 38.5 883.3 38.6 879.7 38.6ZM879.7 34.4 881.8 36.5 879.7 38.6 877.6 36.5ZM897.7 34.2 899.8 36.3 897.7 38.4 895.6 36.3ZM912.8 34 912.8 34 912.8 38.2 912.8 38.2ZM912.8 34 914.9 36.1 912.8 38.2 910.7 36.1ZM912.8 34 914.9 36.1 912.8 38.2 910.7 36.1ZM927.9 33.8 929.6 33.8 934 33.7 938.8 33.7 944.1 33.6 945.9 33.6 945.9 37.8 944.1 37.8 938.8 37.9 934 37.9 929.6 38 927.9 38ZM927.9 33.8 930 35.9 927.9 38 925.8 35.9ZM945.9 33.6 948 35.7 945.9 37.8 943.8 35.7ZM961 33.5 961.1 33.5 961.1 37.7 961 37.7ZM961 33.5 963.1 35.6 961 37.7 958.9 35.6ZM961.1 33.5 963.2 35.6 961.1 37.7 959 35.6ZM976.2 33.5 979.6 33.4 988.1 33.4 994.2 33.4 994.2 37.6 988.1 37.6 979.6 37.6 976.2 37.7ZM976.2 33.5 978.3 35.6 976.2 37.7 974.1 35.6ZM994.2 33.4 996.3 35.5 994.2 37.6 992.1 35.5ZM1009.3 33.3 1009.3 33.3 1009.3 37.5 1009.3 37.5ZM1009.3 33.3 1011.4 35.4 1009.3 37.5 1007.2 35.4ZM1009.3 33.3 1011.4 35.4 1009.3 37.5 1007.2 35.4ZM1024.4 33.3 1032.8 33.2 1041.5 33.2 1042.4 33.2 1042.4 37.4 1041.5 37.4 1032.8 37.4 1024.4 37.5ZM1024.4 33.3 1026.5 35.4 1024.4 37.5 1022.3 35.4ZM1042.4 33.2 1044.5 35.3 1042.4 37.4 1040.3 35.3ZM1057.5 33.2 1057.6 33.2 1057.6 37.4 1057.5 37.4ZM1057.5 33.2 1059.6 35.3 1057.5 37.4 1055.4 35.3ZM1057.6 33.2 1059.7 35.3 1057.6 37.4 1055.5 35.3ZM1072.7 33.2 1075 33.2 1083.3 33.2 1090.7 33.1 1090.7 37.3 1083.3 37.4 1075 37.4 1072.7 37.4ZM1072.7 33.2 1074.8 35.3 1072.7 37.4 1070.6 35.3ZM1090.7 33.1 1092.8 35.2 1090.7 37.3 1088.6 35.2ZM1105.8 33.1 1105.8 33.1 1105.8 37.3 1105.8 37.3ZM1105.8 33.1 1107.9 35.2 1105.8 37.3 1103.7 35.2ZM1105.8 33.1 1107.9 35.2 1105.8 37.3 1103.7 35.2ZM1120.9 33.2 1125 33.2 1133.3 33.2 1138.9 33.2 1138.9 37.4 1133.3 37.4 1125 37.4 1120.9 37.4ZM1120.9 33.2 1123 35.3 1120.9 37.4 1118.8 35.3ZM1138.9 33.2 1141 35.3 1138.9 37.4 1136.8 35.3ZM1154 33.2 1154.1 33.2 1154.1 37.4 1154 37.4ZM1154 33.2 1156.1 35.3 1154 37.4 1151.9 35.3ZM1154.1 33.2 1156.2 35.3 1154.1 37.4 1152 35.3ZM1169.2 33.3 1175.1 33.3 1183.5 33.3 1187.2 33.3 1187.2 37.5 1183.5 37.5 1175.1 37.5 1169.2 37.5ZM1169.2 33.3 1171.3 35.4 1169.2 37.5 1167.1 35.4ZM1187.2 33.3 1189.3 35.4 1187.2 37.5 1185.1 35.4ZM1202.3 33.4 1202.3 33.4 1202.3 37.6 1202.3 37.6ZM1202.3 33.4 1204.4 35.5 1202.3 37.6 1200.2 35.5ZM1202.3 33.4 1204.4 35.5 1202.3 37.6 1200.2 35.5ZM1217.4 33.5 1225.4 33.5 1233.7 33.6 1235.4 33.6 1235.4 37.8 1233.7 37.8 1225.4 37.7 1217.4 37.7ZM1217.4 33.5 1219.5 35.6 1217.4 37.7 1215.3 35.6ZM1235.4 33.6 1237.5 35.7 1235.4 37.8 1233.3 35.7ZM1250.5 33.7 1250.6 33.7 1250.6 37.9 1250.5 37.9ZM1250.5 33.7 1252.6 35.8 1250.5 37.9 1248.4 35.8ZM1250.6 33.7 1252.7 35.8 1250.6 37.9 1248.5 35.8ZM1265.7 33.9 1266.1 33.9 1274 34 1281.9 34 1283.7 34.1 1283.7 38.3 1281.9 38.2 1274 38.2 1266.1 38.1 1265.7 38.1ZM1265.7 33.9 1267.8 36 1265.7 38.1 1263.6 36ZM1283.7 34.1 1285.8 36.2 1283.7 38.3 1281.6 36.2ZM1298.8 34.3 1298.8 34.3 1298.8 38.5 1298.8 38.5ZM1298.8 34.3 1300.9 36.4 1298.8 38.5 1296.7 36.4ZM1298.8 34.3 1300.9 36.4 1298.8 38.5 1296.7 36.4ZM1313.9 34.5 1321 34.6 1328.8 34.7 1331.9 34.7 1331.9 38.9 1328.8 38.9 1321 38.8 1313.9 38.7ZM1313.9 34.5 1316 36.6 1313.9 38.7 1311.8 36.6ZM1331.9 34.7 1334 36.8 1331.9 38.9 1329.8 36.8Z"/>
<path d="M207.5 32.7 211.5 32.7 216 32.8 217.5 32.8 217.5 37 216 37 211.5 36.9 207.5 36.9ZM207.5 32.7 209.6 34.8 207.5 36.9 205.4 34.8ZM217.5 32.8 219.6 34.9 217.5 37 215.4 34.9ZM235.4 32.9 238.8 32.9 243.3 33 245.4 33 245.4 37.2 243.3 37.2 238.8 37.1 235.4 37.1ZM235.4 32.9 237.5 35 235.4 37.1 233.3 35ZM245.4 33 247.5 35.1 245.4 37.2 243.3 35.1ZM263.2 33.1 263.8 33.1 267.4 33.2 270.9 33.2 273.2 33.3 273.2 37.5 270.9 37.4 267.4 37.4 263.8 37.3 263.2 37.3ZM263.2 33.1 265.4 35.2 263.2 37.3 261.1 35.2ZM273.2 33.3 275.4 35.4 273.2 37.5 271.1 35.4ZM291.1 33.6 293.5 33.6 296.7 33.6 300 33.7 301.1 33.7 301.1 37.9 300 37.9 296.7 37.8 293.5 37.8 291.1 37.8ZM291.1 33.6 293.2 35.7 291.1 37.8 289 35.7ZM301.1 33.7 303.2 35.8 301.1 37.9 299 35.8ZM319 34 320 34 323.3 34 326.7 34.1 329 34.1 329 38.3 326.7 38.3 323.3 38.2 320 38.2 319 38.2ZM319 34 321.1 36.1 319 38.2 316.9 36.1ZM329 34.1 331.1 36.2 329 38.3 326.9 36.2ZM346.9 34.4 349.6 34.5 352.8 34.5 355.9 34.6 356.9 34.6 356.9 38.8 355.9 38.8 352.8 38.7 349.6 38.7 346.9 38.6ZM346.9 34.4 349 36.5 346.9 38.6 344.8 36.5ZM356.9 34.6 359 36.7 356.9 38.8 354.8 36.7ZM374.8 35 376.1 35 380 35.1 384.1 35.2 384.8 35.2 384.8 39.4 384.1 39.4 380 39.3 376.1 39.2 374.8 39.2ZM374.8 35 376.9 37.1 374.8 39.2 372.7 37.1ZM384.8 35.2 386.9 37.3 384.8 39.4 382.7 37.3ZM402.7 35.6 403.2 35.6 408.2 35.7 412.7 35.8 412.7 40 408.2 39.9 403.2 39.8 402.7 39.8ZM402.7 35.6 404.8 37.7 402.7 39.8 400.6 37.7ZM412.7 35.8 414.8 37.9 412.7 40 410.6 37.9ZM430.5 36.3 431.3 36.3 435 36.4 438.3 36.5 440.5 36.6 440.5 40.8 438.3 40.7 435 40.6 431.3 40.5 430.5 40.5ZM430.5 36.3 432.6 38.4 430.5 40.5 428.4 38.4ZM440.5 36.6 442.6 38.7 440.5 40.8 438.4 38.7ZM458.4 37.7 458.6 37.7 460.8 37.8 463 37.9 465.3 38 467.7 38.1 468.4 38.1 468.4 42.3 467.7 42.3 465.3 42.2 463 42.1 460.8 42 458.6 41.9 458.4 41.9ZM458.4 37.7 460.5 39.8 458.4 41.9 456.3 39.8ZM468.4 38.1 470.5 40.2 468.4 42.3 466.3 40.2ZM486.3 38.7 486.3 38.7 488.7 38.8 491 38.9 493.3 39 495.7 39.1 496.3 39.1 496.3 43.3 495.7 43.3 493.3 43.2 491 43.1 488.7 43 486.3 42.9 486.3 42.9ZM486.3 38.7 488.4 40.8 486.3 42.9 484.2 40.8ZM496.3 39.1 498.4 41.2 496.3 43.3 494.2 41.2ZM514.2 40.1 514.3 40.1 516.7 40.3 519 40.4 521.3 40.5 523.7 40.7 524.2 40.7 524.2 44.9 523.7 44.9 521.3 44.7 519 44.6 516.7 44.5 514.3 44.3 514.2 44.3ZM514.2 40.1 516.3 42.2 514.2 44.3 512.1 42.2ZM524.2 40.7 526.3 42.8 524.2 44.9 522.1 42.8ZM542 41.8 542.3 41.8 544.7 41.9 547 42.1 549.3 42.3 551.7 42.4 552 42.4 552 46.6 551.7 46.6 549.3 46.5 547 46.3 544.7 46.1 542.3 46 542 46ZM542 41.8 544.1 43.9 542 46 539.9 43.9ZM552 42.4 554.1 44.5 552 46.6 549.9 44.5ZM569.9 43.7 570.3 43.7 572.7 43.9 575 44.1 577.3 44.3 579.7 44.5 579.9 44.5 579.9 48.7 579.7 48.7 577.3 48.5 575 48.3 572.7 48.1 570.3 47.9 569.9 47.9ZM569.9 43.7 572 45.8 569.9 47.9 567.8 45.8ZM579.9 44.5 582 46.6 579.9 48.7 577.8 46.6ZM597.8 45.9 598.3 46 600.7 46.2 603 46.4 605.3 46.6 607.7 46.8 607.8 46.8 607.8 51 607.7 51 605.3 50.8 603 50.6 600.7 50.4 598.3 50.2 597.8 50.1ZM597.8 45.9 599.9 48 597.8 50.1 595.7 48ZM607.8 46.8 609.9 48.9 607.8 51 605.7 48.9ZM625.7 48.7 626.4 48.8 628.7 49.1 631 49.4 633.3 49.7 635.5 50.1 635.7 50.1 635.7 54.3 635.5 54.3 633.3 53.9 631 53.6 628.7 53.3 626.4 53 625.7 52.9ZM625.7 48.7 627.8 50.8 625.7 52.9 623.6 50.8ZM635.7 50.1 637.8 52.2 635.7 54.3 633.6 52.2ZM653.6 53.4 655.7 53.9 658 54.4 660.3 54.9 662.6 55.5 663.6 55.7 663.6 59.9 662.6 59.7 660.3 59.1 658 58.6 655.7 58.1 653.6 57.6ZM653.6 53.4 655.7 55.5 653.6 57.6 651.5 55.5ZM663.6 55.7 665.7 57.8 663.6 59.9 661.5 57.8ZM681.5 60.3 683.7 60.9 686 61.6 688.3 62.3 690.7 63 691.5 63.2 691.5 67.4 690.7 67.2 688.3 66.5 686 65.8 683.7 65.1 681.5 64.5ZM681.5 60.3 683.6 62.4 681.5 64.5 679.4 62.4ZM691.5 63.2 693.6 65.3 691.5 67.4 689.4 65.3ZM709.3 69 711.6 69.8 714 70.7 716.4 71.6 718.8 72.5 719.3 72.7 719.3 76.9 718.8 76.7 716.4 75.8 714 74.9 711.6 74 709.3 73.2ZM709.3 69 711.4 71.1 709.3 73.2 707.2 71.1ZM719.3 72.7 721.4 74.8 719.3 76.9 717.2 74.8ZM737.2 80.1 738 80.5 740.4 81.6 742.7 82.7 745 83.8 747.2 84.9 747.2 89.1 745 88 742.7 86.9 740.4 85.8 738 84.7 737.2 84.3ZM737.2 80.1 739.3 82.2 737.2 84.3 735.1 82.2ZM747.2 84.9 749.3 87 747.2 89.1 745.1 87ZM765.1 94.7 765.5 94.9 767.7 96.4 770 97.9 772.3 99.5 774.6 101.2 775.1 101.5 775.1 105.7 774.6 105.4 772.3 103.7 770 102.1 767.7 100.6 765.5 99.1 765.1 98.9ZM765.1 94.7 767.2 96.8 765.1 98.9 763 96.8ZM775.1 101.5 777.2 103.6 775.1 105.7 773 103.6ZM793 116.3 793 116.3 795.3 118.3 797.5 120.4 799.8 122.5 802 124.7 803 125.6 803 129.8 802 128.9 799.8 126.7 797.5 124.6 795.3 122.5 793 120.5 793 120.5ZM793 116.3 795.1 118.4 793 120.5 790.9 118.4ZM803 125.6 805.1 127.7 803 129.8 800.9 127.7ZM822 145.5 823.9 147.7 825.8 150 827.7 152.3 829.5 154.6 830.2 155.5 826 155.5 825.3 154.6 823.5 152.3 821.6 150 819.7 147.7 817.8 145.5ZM819.9 143.4 822 145.5 819.9 147.6 817.8 145.5ZM828.1 153.4 830.2 155.5 828.1 157.6 826 155.5ZM842.4 173.4 843.7 175.5 845.1 177.8 846.5 180.2 847.9 182.5 848.4 183.4 844.2 183.4 843.7 182.5 842.3 180.2 840.9 177.8 839.5 175.5 838.2 173.4ZM840.3 171.3 842.4 173.4 840.3 175.5 838.2 173.4ZM846.3 181.3 848.4 183.4 846.3 185.5 844.2 183.4ZM857.7 201.3 857.8 201.6 859 203.9 860.1 206.3 861.2 208.7 862.3 211 862.4 211.3 858.2 211.3 858.1 211 857 208.7 855.9 206.3 854.8 203.9 853.6 201.6 853.5 201.3ZM855.6 199.2 857.7 201.3 855.6 203.4 853.5 201.3ZM860.3 209.2 862.4 211.3 860.3 213.4 858.2 211.3ZM870.1 229.2 870.3 229.7 871.2 232 872.1 234.3 873 236.6 873.9 238.9 874 239.2 869.8 239.2 869.7 238.9 868.8 236.6 867.9 234.3 867 232 866.1 229.7 865.9 229.2ZM868 227.1 870.1 229.2 868 231.3 865.9 229.2ZM871.9 237.1 874 239.2 871.9 241.3 869.8 239.2ZM880.2 257.1 880.9 259.2 881.6 261.5 882.3 263.8 883 266.2 883.2 267.1 879 267.1 878.8 266.2 878.1 263.8 877.4 261.5 876.7 259.2 876 257.1ZM878.1 255 880.2 257.1 878.1 259.2 876 257.1ZM881.1 265 883.2 267.1 881.1 269.2 879 267.1ZM887.9 284.9 888 285.3 888.5 287.6 889.1 290 889.6 292.4 890.2 294.7 890.2 294.9 886 294.9 886 294.7 885.4 292.4 884.9 290 884.3 287.6 883.8 285.3 883.7 284.9ZM885.8 282.8 887.9 284.9 885.8 287 883.7 284.9ZM888.1 292.8 890.2 294.9 888.1 297 886 294.9ZM893.8 312.8 893.9 313.3 894.4 315.7 894.8 318 895.3 320.3 895.7 322.7 895.7 322.8 891.5 322.8 891.5 322.7 891.1 320.3 890.6 318 890.2 315.7 889.7 313.3 889.6 312.8ZM891.7 310.7 893.8 312.8 891.7 314.9 889.6 312.8ZM893.6 320.7 895.7 322.8 893.6 324.9 891.5 322.8ZM899.1 340.7 899.2 341.3 899.5 343.7 899.9 346 900.2 348.3 900.5 350.7 900.6 350.7 896.4 350.7 896.3 350.7 896 348.3 895.7 346 895.3 343.7 895 341.3 894.9 340.7ZM897 338.6 899.1 340.7 897 342.8 894.9 340.7ZM898.5 348.6 900.6 350.7 898.5 352.8 896.4 350.7ZM902.5 368.6 902.6 369.3 902.8 371.7 903.1 374 903.4 376.3 903.6 378.6 899.4 378.6 899.2 376.3 898.9 374 898.6 371.7 898.4 369.3 898.3 368.6ZM900.4 366.5 902.5 368.6 900.4 370.7 898.3 368.6ZM901.5 376.5 903.6 378.6 901.5 380.7 899.4 378.6ZM905.6 396.5 905.6 397.4 905.9 399.7 906.1 402 906.3 404.3 906.5 406.5 902.3 406.5 902.1 404.3 901.9 402 901.7 399.7 901.4 397.4 901.4 396.5ZM903.5 394.4 905.6 396.5 903.5 398.6 901.4 396.5ZM904.4 404.4 906.5 406.5 904.4 408.6 902.3 406.5ZM907.9 424.3 908 424.8 908.1 427.1 908.3 429.4 908.5 431.7 908.6 434 908.7 434.3 904.5 434.3 904.4 434 904.3 431.7 904.1 429.4 903.9 427.1 903.8 424.8 903.7 424.3ZM905.8 422.2 907.9 424.3 905.8 426.4 903.7 424.3ZM906.6 432.2 908.7 434.3 906.6 436.4 904.5 434.3ZM909.8 452.2 909.8 452.4 910 454.7 910.1 457 910.2 459.3 910.4 461.7 910.4 462.2 906.2 462.2 906.2 461.7 906 459.3 905.9 457 905.8 454.7 905.6 452.4 905.6 452.2ZM907.7 450.1 909.8 452.2 907.7 454.3 905.6 452.2ZM908.3 460.1 910.4 462.2 908.3 464.3 906.2 462.2ZM911.3 480.1 911.4 480.7 911.5 483.1 911.6 485.4 911.7 487.7 911.9 490 911.9 490.1 907.7 490.1 907.7 490 907.5 487.7 907.4 485.4 907.3 483.1 907.2 480.7 907.1 480.1ZM909.2 478 911.3 480.1 909.2 482.2 907.1 480.1ZM909.8 488 911.9 490.1 909.8 492.2 907.7 490.1ZM912.9 508 912.9 508.4 913 510.7 913.1 513 913.2 515.3 913.3 517.6 913.3 518 909.1 518 909.1 517.6 909 515.3 908.9 513 908.8 510.7 908.7 508.4 908.7 508ZM910.8 505.9 912.9 508 910.8 510.1 908.7 508ZM911.2 515.9 913.3 518 911.2 520.1 909.1 518ZM913.9 535.9 913.9 536.3 914 538.6 914.1 541 914.2 543.4 914.3 545.7 914.3 545.9 910.1 545.9 910.1 545.7 910 543.4 909.9 541 909.8 538.6 909.7 536.3 909.7 535.9ZM911.8 533.8 913.9 535.9 911.8 538 909.7 535.9ZM912.2 543.8 914.3 545.9 912.2 548 910.1 545.9ZM915.2 563.7 915.3 564.9 915.4 567.3 915.5 569.7 915.6 572.1 915.7 573.7 911.5 573.7 911.4 572.1 911.3 569.7 911.2 567.3 911.1 564.9 911 563.7ZM913.1 561.6 915.2 563.7 913.1 565.8 911 563.7ZM913.6 571.6 915.7 573.7 913.6 575.8 911.5 573.7ZM916.3 591.6 916.4 593.2 916.4 595.6 916.5 598 916.6 600.3 916.6 601.6 912.4 601.6 912.4 600.3 912.3 598 912.2 595.6 912.2 593.2 912.1 591.6ZM914.2 589.5 916.3 591.6 914.2 593.7 912.1 591.6ZM914.5 599.5 916.6 601.6 914.5 603.7 912.4 601.6ZM917.1 619.5 917.1 621.3 917.2 624.1 917.2 627 917.2 629.5 913 629.5 913 627 913 624.1 912.9 621.3 912.9 619.5ZM915 617.4 917.1 619.5 915 621.6 912.9 619.5ZM915.1 627.4 917.2 629.5 915.1 631.6 913 629.5ZM917.4 647.4 917.4 650.9 917.4 654.6 917.4 657.4 913.2 657.4 913.2 654.6 913.2 650.9 913.2 647.4ZM915.3 645.3 917.4 647.4 915.3 649.5 913.2 647.4ZM915.3 655.3 917.4 657.4 915.3 659.5 913.2 657.4ZM917.5 675.3 917.5 677.8 917.6 681.8 917.6 685.3 913.4 685.3 913.4 681.8 913.3 677.8 913.3 675.3ZM915.4 673.2 917.5 675.3 915.4 677.4 913.3 675.3ZM915.5 683.2 917.6 685.3 915.5 687.4 913.4 685.3ZM917.6 703.1 917.7 706.6 917.7 711 917.7 713.1 913.5 713.1 913.5 711 913.5 706.6 913.4 703.1ZM915.5 701 917.6 703.1 915.5 705.2 913.4 703.1ZM915.6 711 917.7 713.1 915.6 715.2 913.5 713.1ZM917.7 731 917.7 734.3 917.7 739.3 917.7 741 913.5 741 913.5 739.3 913.5 734.3 913.5 731ZM915.6 728.9 917.7 731 915.6 733.1 913.5 731ZM915.6 738.9 917.7 741 915.6 743.1 913.5 741ZM917.8 758.9 917.8 759.6 917.8 764.8 917.8 768.9 913.6 768.9 913.6 764.8 913.6 759.6 913.6 758.9ZM915.7 756.8 917.8 758.9 915.7 761 913.6 758.9ZM915.7 766.8 917.8 768.9 915.7 771 913.6 768.9ZM917.8 786.8 917.8 790.2 917.8 795.4 917.8 796.8 913.6 796.8 913.6 795.4 913.6 790.2 913.6 786.8ZM915.7 784.7 917.8 786.8 915.7 788.9 913.6 786.8ZM915.7 794.7 917.8 796.8 915.7 798.9 913.6 796.8ZM917.9 814.7 917.9 816.2 917.9 821.3 917.9 824.7 913.7 824.7 913.7 821.3 913.7 816.2 913.7 814.7ZM915.8 812.6 917.9 814.7 915.8 816.8 913.7 814.7ZM915.8 822.6 917.9 824.7 915.8 826.8 913.7 824.7ZM917.9 842.5 917.9 844.5 917.9 849.1 917.9 852.5 913.7 852.5 913.7 849.1 913.7 844.5 913.7 842.5ZM915.8 840.4 917.9 842.5 915.8 844.6 913.7 842.5ZM915.8 850.4 917.9 852.5 915.8 854.6 913.7 852.5ZM917.9 870.4 917.9 872 917.9 875.7 917.9 878.7 917.9 880.4 913.7 880.4 913.7 878.7 913.7 875.7 913.7 872 913.7 870.4ZM915.8 868.3 917.9 870.4 915.8 872.5 913.7 870.4ZM915.8 878.3 917.9 880.4 915.8 882.5 913.7 880.4ZM913.7 882.8 913.7 882.5 913.7 881 913.7 878.7 913.8 875.7 913.8 872.8 918 872.8 918 875.7 917.9 878.7 917.9 881 917.9 882.5 917.9 882.8ZM915.8 880.7 917.9 882.8 915.8 884.9 913.7 882.8ZM915.9 870.7 918 872.8 915.9 874.9 913.8 872.8ZM913.8 855 913.9 854 913.9 849.1 913.9 845 918.1 845 918.1 849.1 918.1 854 918 855ZM915.9 852.9 918 855 915.9 857.1 913.8 855ZM916 842.9 918.1 845 916 847.1 913.9 845ZM913.9 827.1 913.9 826.2 913.9 821.3 913.9 817.1 918.1 817.1 918.1 821.3 918.1 826.2 918.1 827.1ZM916 825 918.1 827.1 916 829.2 913.9 827.1ZM916 815 918.1 817.1 916 819.2 913.9 817.1ZM914 799.2 914 795.4 914 790.2 914 789.2 918.2 789.2 918.2 790.2 918.2 795.4 918.2 799.2ZM916.1 797.1 918.2 799.2 916.1 801.3 914 799.2ZM916.1 787.1 918.2 789.2 916.1 791.3 914 789.2ZM914 771.4 914 769.9 914 764.8 914 761.4 918.2 761.4 918.2 764.8 918.2 769.9 918.2 771.4ZM916.1 769.3 918.2 771.4 916.1 773.5 914 771.4ZM916.1 759.3 918.2 761.4 916.1 763.5 914 761.4ZM914.1 743.5 914.1 739.3 914.1 734.3 914.1 733.5 918.3 733.5 918.3 734.3 918.3 739.3 918.3 743.5ZM916.2 741.4 918.3 743.5 916.2 745.6 914.1 743.5ZM916.2 731.4 918.3 733.5 916.2 735.6 914.1 733.5ZM914.1 715.6 914.1 715.5 914.1 711 914.1 706.6 914.1 705.6 918.3 705.6 918.3 706.6 918.3 711 918.3 715.5 918.3 715.6ZM916.2 713.5 918.3 715.6 916.2 717.7 914.1 715.6ZM916.2 703.5 918.3 705.6 916.2 707.7 914.1 705.6ZM914.2 687.7 914.2 685.8 914.2 681.8 914.3 677.8 914.3 677.7 918.5 677.7 918.5 677.8 918.4 681.8 918.4 685.8 918.4 687.7ZM916.3 685.6 918.4 687.7 916.3 689.8 914.2 687.7ZM916.4 675.6 918.5 677.7 916.4 679.8 914.3 677.7ZM914.3 659.9 914.4 658.4 914.4 654.6 914.4 650.9 914.4 649.9 918.6 649.9 918.6 650.9 918.6 654.6 918.6 658.4 918.5 659.9ZM916.4 657.8 918.5 659.9 916.4 662 914.3 659.9ZM916.5 647.8 918.6 649.9 916.5 652 914.4 649.9ZM914.5 632 914.6 630.1 914.6 627 914.6 624.1 914.7 622 918.9 622 918.8 624.1 918.8 627 918.8 630.1 918.7 632ZM916.6 629.9 918.7 632 916.6 634.1 914.5 632ZM916.8 619.9 918.9 622 916.8 624.1 914.7 622ZM915.2 604.1 915.3 602.6 915.3 600.3 915.4 598 915.5 595.7 915.5 594.1 919.7 594.1 919.7 595.7 919.6 598 919.5 600.3 919.5 602.6 919.4 604.1ZM917.3 602 919.4 604.1 917.3 606.2 915.2 604.1ZM917.6 592 919.7 594.1 917.6 596.2 915.5 594.1ZM916.1 576.3 916.1 575.5 916.2 573.3 916.3 571 916.4 568.7 916.5 566.5 916.5 566.3 920.7 566.3 920.7 566.5 920.6 568.7 920.5 571 920.4 573.3 920.3 575.5 920.3 576.3ZM918.2 574.2 920.3 576.3 918.2 578.4 916.1 576.3ZM918.6 564.2 920.7 566.3 918.6 568.4 916.5 566.3ZM917.5 548.4 917.5 548.2 917.6 545.9 917.7 543.6 917.8 541.3 917.9 539 917.9 538.4 922.1 538.4 922.1 539 922 541.3 921.9 543.6 921.8 545.9 921.7 548.2 921.7 548.4ZM919.6 546.3 921.7 548.4 919.6 550.5 917.5 548.4ZM920 536.3 922.1 538.4 920 540.5 917.9 538.4ZM918.4 520.5 918.5 518.3 918.6 516 918.7 513.7 918.8 511.4 918.8 510.5 923 510.5 923 511.4 922.9 513.7 922.8 516 922.7 518.3 922.6 520.5ZM920.5 518.4 922.6 520.5 920.5 522.6 918.4 520.5ZM920.9 508.4 923 510.5 920.9 512.6 918.8 510.5ZM919.5 492.6 919.6 490.7 919.7 488.4 919.8 486.1 919.9 483.7 920 482.6 924.2 482.6 924.1 483.7 924 486.1 923.9 488.4 923.8 490.7 923.7 492.6ZM921.6 490.5 923.7 492.6 921.6 494.7 919.5 492.6ZM922.1 480.5 924.2 482.6 922.1 484.7 920 482.6ZM921 464.8 921 464.7 921.2 462.4 921.3 460 921.4 457.6 921.6 455.3 921.6 454.8 925.8 454.8 925.8 455.3 925.6 457.6 925.5 460 925.4 462.4 925.2 464.7 925.2 464.8ZM923.1 462.7 925.2 464.8 923.1 466.9 921 464.8ZM923.7 452.7 925.8 454.8 923.7 456.9 921.6 454.8ZM922.7 436.9 922.8 436.4 922.9 434 923.1 431.7 923.3 429.4 923.4 427 923.4 426.9 927.6 426.9 927.6 427 927.5 429.4 927.3 431.7 927.1 434 927 436.4 926.9 436.9ZM924.8 434.8 926.9 436.9 924.8 439 922.7 436.9ZM925.5 424.8 927.6 426.9 925.5 429 923.4 426.9ZM924.8 409 924.9 408.6 925.1 406.3 925.3 404 925.5 401.7 925.8 399.4 925.8 399 930 399 930 399.4 929.7 401.7 929.5 404 929.3 406.3 929.1 408.6 929 409ZM926.9 406.9 929 409 926.9 411.1 924.8 409ZM927.9 396.9 930 399 927.9 401.1 925.8 399ZM927.8 381.2 927.8 381 928.1 378.7 928.4 376.4 928.7 374.1 929 371.7 929.1 371.2 933.3 371.2 933.2 371.7 932.9 374.1 932.6 376.4 932.3 378.7 932 381 932 381.2ZM929.9 379.1 932 381.2 929.9 383.3 927.8 381.2ZM931.2 369.1 933.3 371.2 931.2 373.3 929.1 371.2ZM931.6 353.3 931.7 352.7 932 350.4 932.4 348 932.8 345.6 933.1 343.3 937.3 343.3 937 345.6 936.6 348 936.2 350.4 935.9 352.7 935.8 353.3ZM933.7 351.2 935.8 353.3 933.7 355.4 931.6 353.3ZM935.2 341.2 937.3 343.3 935.2 345.4 933.1 343.3ZM936 325.4 936.2 324.3 936.6 322 937 319.7 937.4 317.4 937.8 315.4 942 315.4 941.6 317.4 941.2 319.7 940.8 322 940.4 324.3 940.2 325.4ZM938.1 323.3 940.2 325.4 938.1 327.5 936 325.4ZM939.9 313.3 942 315.4 939.9 317.5 937.8 315.4ZM941.5 297.6 941.5 297.1 942 295 942.5 292.8 943 290.6 943.5 288.4 943.7 287.6 947.9 287.6 947.7 288.4 947.2 290.6 946.7 292.8 946.2 295 945.7 297.1 945.7 297.6ZM943.6 295.5 945.7 297.6 943.6 299.7 941.5 297.6ZM945.8 285.5 947.9 287.6 945.8 289.7 943.7 287.6ZM947.9 269.7 947.9 269.7 948.4 268 948.8 266.5 949.3 265.1 949.7 263.8 950.1 262.7 950.5 261.6 950.9 260.5 951.2 259.7 955.4 259.7 955.1 260.5 954.7 261.6 954.3 262.7 953.9 263.8 953.5 265.1 953 266.5 952.6 268 952.1 269.7 952.1 269.7ZM950 267.6 952.1 269.7 950 271.8 947.9 269.7ZM953.3 257.6 955.4 259.7 953.3 261.8 951.2 259.7ZM957.7 241.8 957.8 241.7 958.4 240 959.1 238.3 959.9 236.5 960.7 234.6 961.6 232.5 961.9 231.8 966.1 231.8 965.8 232.5 964.9 234.6 964.1 236.5 963.3 238.3 962.6 240 962 241.7 961.9 241.8ZM959.8 239.7 961.9 241.8 959.8 243.9 957.7 241.8ZM964 229.7 966.1 231.8 964 233.9 961.9 231.8ZM970.2 213.9 970.3 213.7 971.5 211.3 972.7 208.9 973.9 206.6 975.1 204.2 975.2 203.9 979.4 203.9 979.3 204.2 978.1 206.6 976.9 208.9 975.7 211.3 974.5 213.7 974.4 213.9ZM972.3 211.8 974.4 213.9 972.3 216 970.2 213.9ZM977.3 201.8 979.4 203.9 977.3 206 975.2 203.9ZM984.7 186.1 985.3 185.1 986.8 182.7 988.3 180.4 989.9 178.1 991.3 176.1 995.5 176.1 994.1 178.1 992.5 180.4 991 182.7 989.5 185.1 988.9 186.1ZM986.8 184 988.9 186.1 986.8 188.2 984.7 186.1ZM993.4 174 995.5 176.1 993.4 178.2 991.3 176.1ZM1005.8 158.2 1006.5 157.5 1008.5 155.2 1010.5 153 1012.6 150.7 1014.7 148.5 1014.9 148.2 1019.1 148.2 1018.9 148.5 1016.8 150.7 1014.7 153 1012.7 155.2 1010.7 157.5 1010 158.2ZM1007.9 156.1 1010 158.2 1007.9 160.3 1005.8 158.2ZM1017 146.1 1019.1 148.2 1017 150.3 1014.9 148.2ZM1034.7 128.8 1034.9 128.6 1037.2 126.6 1039.5 124.7 1041.8 122.9 1044.1 121.1 1044.7 120.7 1044.7 124.9 1044.1 125.3 1041.8 127.1 1039.5 128.9 1037.2 130.8 1034.9 132.8 1034.7 133ZM1034.7 128.8 1036.8 130.9 1034.7 133 1032.6 130.9ZM1044.7 120.7 1046.8 122.8 1044.7 124.9 1042.6 122.8ZM1062.5 109.3 1063.1 109 1065.5 107.6 1067.8 106.3 1070.1 105 1072.4 103.8 1072.5 103.7 1072.5 107.9 1072.4 108 1070.1 109.2 1067.8 110.5 1065.5 111.8 1063.1 113.2 1062.5 113.5ZM1062.5 109.3 1064.6 111.4 1062.5 113.5 1060.4 111.4ZM1072.5 103.7 1074.6 105.8 1072.5 107.9 1070.4 105.8ZM1090.4 95.1 1090.6 95 1092.9 94 1095.2 93 1097.5 92 1099.9 91 1100.4 90.8 1100.4 95 1099.9 95.2 1097.5 96.2 1095.2 97.2 1092.9 98.2 1090.6 99.2 1090.4 99.3ZM1090.4 95.1 1092.5 97.2 1090.4 99.3 1088.3 97.2ZM1100.4 90.8 1102.5 92.9 1100.4 95 1098.3 92.9ZM1118.3 84.1 1118.7 83.9 1121 83.2 1123.3 82.4 1125.6 81.7 1127.9 81 1128.3 80.9 1128.3 85.1 1127.9 85.2 1125.6 85.9 1123.3 86.6 1121 87.4 1118.7 88.1 1118.3 88.3ZM1118.3 84.1 1120.4 86.2 1118.3 88.3 1116.2 86.2ZM1128.3 80.9 1130.4 83 1128.3 85.1 1126.2 83ZM1146.1 76.3 1148.2 75.8 1150.5 75.3 1152.8 74.8 1155.1 74.3 1156.1 74.1 1156.1 78.3 1155.1 78.5 1152.8 79 1150.5 79.5 1148.2 80 1146.1 80.5ZM1146.1 76.3 1148.2 78.4 1146.1 80.5 1144 78.4ZM1156.1 74.1 1158.2 76.2 1156.1 78.3 1154 76.2ZM1174 70.9 1176.3 70.6 1178.7 70.2 1181.1 69.9 1183.4 69.5 1184 69.5 1184 73.7 1183.4 73.7 1181.1 74.1 1178.7 74.4 1176.3 74.8 1174 75.1ZM1174 70.9 1176.1 73 1174 75.1 1171.9 73ZM1184 69.5 1186.1 71.6 1184 73.7 1181.9 71.6ZM1201.9 67.4 1202.3 67.3 1204.7 67.1 1207 66.8 1209.3 66.5 1211.6 66.2 1211.9 66.2 1211.9 70.4 1211.6 70.4 1209.3 70.7 1207 71 1204.7 71.3 1202.3 71.5 1201.9 71.6ZM1201.9 67.4 1204 69.5 1201.9 71.6 1199.8 69.5ZM1211.9 66.2 1214 68.3 1211.9 70.4 1209.8 68.3ZM1229.8 64 1229.8 64 1232.1 63.7 1234.4 63.4 1236.7 63.1 1239 62.8 1239.8 62.7 1239.8 66.9 1239 67 1236.7 67.3 1234.4 67.6 1232.1 67.9 1229.8 68.2 1229.8 68.2ZM1229.8 64 1231.9 66.1 1229.8 68.2 1227.7 66.1ZM1239.8 62.7 1241.9 64.8 1239.8 66.9 1237.7 64.8ZM1257.6 60.6 1260 60.4 1262.3 60.1 1264.6 59.9 1267 59.6 1267.6 59.6 1267.6 63.8 1267 63.8 1264.6 64.1 1262.3 64.3 1260 64.6 1257.6 64.8ZM1257.6 60.6 1259.7 62.7 1257.6 64.8 1255.5 62.7ZM1267.6 59.6 1269.7 61.7 1267.6 63.8 1265.5 61.7ZM1285.5 57.9 1285.9 57.9 1288.3 57.6 1290.6 57.4 1292.9 57.1 1295.3 56.9 1295.5 56.9 1295.5 61.1 1295.3 61.1 1292.9 61.3 1290.6 61.6 1288.3 61.8 1285.9 62.1 1285.5 62.1ZM1285.5 57.9 1287.6 60 1285.5 62.1 1283.4 60ZM1295.5 56.9 1297.6 59 1295.5 61.1 1293.4 59ZM1313.4 54.7 1313.9 54.6 1316.1 54.4 1318.4 54.1 1320.6 53.9 1322.8 53.6 1323.4 53.6 1323.4 57.8 1322.8 57.8 1320.6 58.1 1318.4 58.3 1316.1 58.6 1313.9 58.8 1313.4 58.9ZM1313.4 54.7 1315.5 56.8 1313.4 58.9 1311.3 56.8ZM1323.4 53.6 1325.5 55.7 1323.4 57.8 1321.3 55.7ZM1341.2 51.8 1342.3 51.7 1344.5 51.5 1344.5 55.7 1342.3 55.9 1341.2 56ZM1341.2 51.8 1343.3 53.9 1341.2 56 1339.1 53.9ZM1344.5 51.5 1346.6 53.6 1344.5 55.7 1342.4 53.6Z"/>
</g>
<path d="M262.1 686 272.2 686 272.2 690.2 262.1 690.2ZM262.1 686 264.2 688.1 262.1 690.2 260 688.1ZM272.2 686 274.3 688.1 272.2 690.2 270.1 688.1ZM289.9 686 299.6 686 299.6 690.2 289.9 690.2ZM289.9 686 292 688.1 289.9 690.2 287.8 688.1ZM299.6 686 301.7 688.1 299.6 690.2 297.5 688.1ZM317.4 686 327.5 686 327.5 690.2 317.4 690.2ZM317.4 686 319.5 688.1 317.4 690.2 315.3 688.1ZM327.5 686 329.6 688.1 327.5 690.2 325.4 688.1ZM346.1 686 356.2 686 356.2 690.2 346.1 690.2ZM346.1 686 348.2 688.1 346.1 690.2 344 688.1ZM356.2 686 358.3 688.1 356.2 690.2 354.1 688.1ZM262.1 752 280.8 752 280.8 756.2 262.1 756.2ZM262.1 752 264.2 754.1 262.1 756.2 260 754.1ZM280.8 752 282.9 754.1 280.8 756.2 278.7 754.1ZM295.9 752 298 754.1 295.9 756.2 293.8 754.1ZM310.5 752 329.2 752 329.2 756.2 310.5 756.2ZM310.5 752 312.6 754.1 310.5 756.2 308.4 754.1ZM329.2 752 331.3 754.1 329.2 756.2 327.1 754.1ZM343.9 752 346 754.1 343.9 756.2 341.8 754.1ZM262.5 818.4 357 818.4 357 822.6 262.5 822.6ZM262.5 818.4 264.6 820.5 262.5 822.6 260.4 820.5ZM357 818.4 359.1 820.5 357 822.6 354.9 820.5Z"/>
</g>
</svg>
</body></html>
